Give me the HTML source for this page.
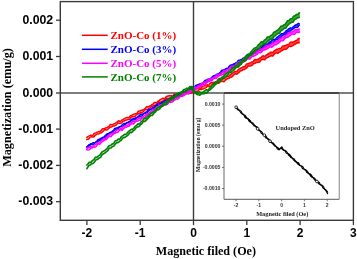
<!DOCTYPE html><html><head><meta charset="utf-8"><style>
html,body{margin:0;padding:0;background:#fff;width:357px;height:259px;overflow:hidden}
svg{display:block;will-change:transform}
.s{font-family:"Liberation Sans",sans-serif;font-weight:bold}
.t{font-family:"Liberation Serif",serif;font-weight:bold}
</style></head><body>
<svg width="357" height="259" viewBox="0 0 357 259">
<line x1="56.0" y1="93.0" x2="353.4" y2="93.0" stroke="#7c7c7c" stroke-width="1.9"/>
<line x1="193.5" y1="1.6" x2="193.5" y2="220.3" stroke="#3a3a3a" stroke-width="1.4"/>
<defs>
<linearGradient id="g_red" gradientUnits="userSpaceOnUse" x1="86" y1="0" x2="300" y2="0"><stop offset="0" stop-color="#ff0000" stop-opacity="0.15"/><stop offset="0.53" stop-color="#ff0000" stop-opacity="0.4"/><stop offset="0.8" stop-color="#ff0000" stop-opacity="0.7"/><stop offset="1" stop-color="#ff0000" stop-opacity="0.75"/></linearGradient>
<linearGradient id="g_blue" gradientUnits="userSpaceOnUse" x1="86" y1="0" x2="300" y2="0"><stop offset="0" stop-color="#0000ff" stop-opacity="0.15"/><stop offset="0.53" stop-color="#0000ff" stop-opacity="0.4"/><stop offset="0.8" stop-color="#0000ff" stop-opacity="0.7"/><stop offset="1" stop-color="#0000ff" stop-opacity="0.75"/></linearGradient>
<linearGradient id="g_mag" gradientUnits="userSpaceOnUse" x1="86" y1="0" x2="300" y2="0"><stop offset="0" stop-color="#ff00ff" stop-opacity="0.15"/><stop offset="0.53" stop-color="#ff00ff" stop-opacity="0.4"/><stop offset="0.8" stop-color="#ff00ff" stop-opacity="0.7"/><stop offset="1" stop-color="#ff00ff" stop-opacity="0.75"/></linearGradient>
<linearGradient id="g_green" gradientUnits="userSpaceOnUse" x1="86" y1="0" x2="300" y2="0"><stop offset="0" stop-color="#008000" stop-opacity="0.15"/><stop offset="0.53" stop-color="#008000" stop-opacity="0.4"/><stop offset="0.8" stop-color="#008000" stop-opacity="0.7"/><stop offset="1" stop-color="#008000" stop-opacity="0.75"/></linearGradient>
</defs>
<path d="M86.2,137.6L86.8,137.3L87.4,137.0L88.0,136.5L88.6,136.1L89.2,135.9L89.8,135.6L90.4,135.3L91.0,135.2L91.6,135.4L92.2,135.6L92.8,135.3L93.4,134.5L94.0,133.7L94.6,133.3L95.2,133.2L95.8,132.9L96.4,132.6L97.0,132.2L97.6,132.1L98.2,131.9L98.8,131.6L99.4,131.5L100.0,131.5L100.6,131.3L101.2,130.6L101.8,129.6L102.4,128.9L103.0,128.7L103.6,128.8L104.2,128.6L104.8,128.3L105.4,128.0L106.0,127.9L106.6,127.7L107.2,127.4L107.8,127.0L108.4,126.8L109.0,126.3L109.6,125.5L110.2,124.7L110.8,124.4L111.4,124.6L112.0,124.8L112.6,124.7L113.2,124.3L113.8,123.9L114.4,123.7L115.0,123.4L115.6,123.0L116.2,122.6L116.8,122.2L117.4,121.8L118.0,121.2L118.6,120.8L119.2,120.9L119.8,121.3L120.4,121.4L121.0,121.0L121.6,120.4L122.2,119.9L122.8,119.6L123.4,119.3L124.0,118.9L124.6,118.5L125.2,118.2L125.8,117.9L126.4,117.6L127.0,117.5L127.6,117.7L128.2,117.9L128.8,117.7L129.4,116.9L130.0,116.1L130.6,115.6L131.2,115.4L131.8,115.2L132.4,114.8L133.0,114.5L133.6,114.3L134.2,114.1L134.8,113.9L135.4,113.7L136.0,113.7L136.6,113.6L137.2,112.9L137.8,111.9L138.4,111.2L139.0,111.0L139.6,111.0L140.2,110.9L140.8,110.6L141.4,110.3L142.0,110.2L142.6,110.0L143.2,109.7L143.8,109.4L144.4,109.1L145.0,108.7L145.6,107.9L146.2,107.0L146.8,106.6L147.4,106.8L148.0,107.0L148.6,106.8L149.2,106.4L149.8,106.0L150.4,105.7L151.0,105.4L151.6,104.9L152.2,104.4L152.8,104.1L153.4,103.6L154.0,102.9L154.6,102.4L155.2,102.4L155.8,102.7L156.4,102.8L157.0,102.4L157.6,101.7L158.2,101.2L158.8,100.8L159.4,100.4L160.0,99.9L160.6,99.5L161.2,99.2L161.8,98.9L162.4,98.5L163.0,98.3L163.6,98.5L164.2,98.7L164.8,98.5L165.4,97.7L166.0,96.9L166.6,96.4L167.2,96.2L167.8,96.1L168.4,95.9L169.0,95.8L169.6,95.8L170.2,95.8L170.8,95.6L171.4,95.7L172.0,95.9L172.6,96.0L173.2,95.5L173.8,94.7L174.4,94.1L175.0,94.0L175.6,94.2L176.2,94.3L176.8,94.1L177.4,94.1L178.0,94.1L178.6,94.0L179.2,93.9L179.8,93.7L180.4,93.7L181.0,93.4L181.6,92.8L182.2,92.1L182.8,91.8L183.4,92.1L184.0,92.5L184.6,92.5L185.2,92.3L185.8,92.2L186.4,92.1L187.0,91.9L187.6,91.6L188.2,91.4L188.8,91.2L189.4,90.9L190.0,90.4L190.6,90.0L191.2,90.2L191.8,90.7L192.4,91.0L193.0,90.8L193.6,90.4L194.2,90.0L194.8,89.7L195.4,89.4L196.0,89.0L196.6,88.7L197.2,88.5L197.8,88.2L198.4,87.9L199.0,87.7L199.6,88.0L200.2,88.3L200.8,88.2L201.4,87.6L202.0,86.8L202.6,86.3L203.2,86.1L203.8,85.9L204.4,85.6L205.0,85.4L205.6,85.3L206.2,85.1L206.8,84.9L207.4,84.8L208.0,85.0L208.6,85.0L209.2,84.5L209.8,83.6L210.4,82.9L211.0,82.7L211.6,82.7L212.2,82.7L212.8,82.5L213.4,82.4L214.0,82.3L214.6,82.2L215.2,81.9L215.8,81.7L216.4,81.6L217.0,81.3L217.6,80.6L218.2,79.8L218.8,79.4L219.4,79.6L220.0,79.9L220.6,79.9L221.2,79.6L221.8,79.4L222.4,79.2L223.0,78.9L223.6,78.5L224.2,78.2L224.8,78.0L225.4,77.5L226.0,76.8L226.6,76.1L227.2,76.0L227.8,76.3L228.4,76.4L229.0,76.1L229.6,75.4L230.2,74.9L230.8,74.4L231.4,74.0L232.0,73.4L232.6,73.0L233.2,72.7L233.8,72.3L234.4,71.7L235.0,71.4L235.6,71.5L236.2,71.7L236.8,71.6L237.4,70.8L238.0,69.9L238.6,69.3L239.2,69.0L239.8,68.6L240.4,68.2L241.0,67.9L241.6,67.7L242.2,67.4L242.8,67.0L243.4,66.8L244.0,66.8L244.6,66.7L245.2,66.1L245.8,65.1L246.4,64.2L247.0,63.9L247.6,63.8L248.2,63.6L248.8,63.3L249.4,63.1L250.0,62.9L250.6,62.7L251.2,62.3L251.8,62.1L252.4,62.0L253.0,61.7L253.6,60.9L254.2,60.0L254.8,59.6L255.4,59.6L256.0,59.9L256.6,59.8L257.2,59.6L257.8,59.3L258.4,59.1L259.0,58.7L259.6,58.2L260.2,57.9L260.8,57.6L261.4,57.2L262.0,56.5L262.6,55.9L263.2,55.8L263.8,56.1L264.4,56.4L265.0,56.1L265.6,55.6L266.2,55.1L266.8,54.7L267.4,54.3L268.0,53.8L268.6,53.5L269.2,53.2L269.8,52.9L270.4,52.4L271.0,52.1L271.6,52.3L272.2,52.6L272.8,52.5L273.4,51.9L274.0,51.1L274.6,50.5L275.2,50.2L275.8,49.8L276.4,49.5L277.0,49.3L277.6,49.1L278.2,48.9L278.8,48.6L279.4,48.4L280.0,48.5L280.6,48.5L281.2,48.0L281.8,47.1L282.4,46.3L283.0,45.9L283.6,45.9L284.2,45.8L284.8,45.6L285.4,45.4L286.0,45.3L286.6,45.1L287.2,44.7L287.8,44.5L288.4,44.4L289.0,44.1L289.6,43.4L290.2,42.5L290.8,42.0L291.4,42.0L292.0,42.3L292.6,42.2L293.2,42.0L293.8,41.8L294.4,41.5L295.0,41.2L295.6,40.7L296.2,40.4L296.8,40.2L297.4,39.8L298.0,39.1L298.6,38.5L299.2,38.4L299.8,38.7L299.8,42.7L299.2,42.7L298.6,42.9L298.0,42.9L297.4,42.8L296.8,43.0L296.2,43.5L295.6,44.1L295.0,44.3L294.4,44.5L293.8,44.9L293.2,45.5L292.6,45.9L292.0,46.1L291.4,46.4L290.8,46.6L290.2,46.5L289.6,46.2L289.0,46.3L288.4,47.0L287.8,47.8L287.2,48.4L286.6,48.8L286.0,49.2L285.4,49.4L284.8,49.3L284.2,49.1L283.6,49.4L283.0,50.0L282.4,50.3L281.8,50.5L281.2,50.8L280.6,51.3L280.0,51.8L279.4,52.1L278.8,52.5L278.2,53.1L277.6,53.3L277.0,53.1L276.4,52.8L275.8,53.0L275.2,53.4L274.6,53.9L274.0,54.5L273.4,55.2L272.8,55.9L272.2,56.0L271.6,55.8L271.0,55.8L270.4,56.1L269.8,56.4L269.2,56.6L268.6,56.8L268.0,57.3L267.4,57.6L266.8,57.8L266.2,58.2L265.6,58.8L265.0,59.5L264.4,59.7L263.8,59.6L263.2,59.5L262.6,59.6L262.0,59.6L261.4,59.8L260.8,60.4L260.2,61.4L259.6,62.0L259.0,62.2L258.4,62.2L257.8,62.4L257.2,62.6L256.6,62.6L256.0,62.7L255.4,63.1L254.8,63.5L254.2,63.6L253.6,63.7L253.0,64.2L252.4,64.9L251.8,65.5L251.2,65.7L250.6,65.9L250.0,66.0L249.4,66.0L248.8,65.8L248.2,65.9L247.6,66.7L247.0,67.6L246.4,68.2L245.8,68.5L245.2,69.0L244.6,69.4L244.0,69.4L243.4,69.5L242.8,69.8L242.2,70.4L241.6,70.7L241.0,70.7L240.4,70.9L239.8,71.5L239.2,72.2L238.6,72.7L238.0,73.2L237.4,73.9L236.8,74.2L236.2,74.0L235.6,73.7L235.0,73.9L234.4,74.5L233.8,75.0L233.2,75.6L232.6,76.2L232.0,76.9L231.4,77.2L230.8,77.2L230.2,77.4L229.6,77.9L229.0,78.3L228.4,78.4L227.8,78.5L227.2,78.8L226.6,79.3L226.0,79.6L225.4,80.1L224.8,80.9L224.2,81.6L223.6,81.8L223.0,81.5L222.4,81.3L221.8,81.3L221.2,81.4L220.6,81.5L220.0,82.0L219.4,82.7L218.8,83.3L218.2,83.3L217.6,83.3L217.0,83.6L216.4,84.0L215.8,84.0L215.2,84.0L214.6,84.2L214.0,84.4L213.4,84.4L212.8,84.4L212.2,84.9L211.6,85.7L211.0,86.3L210.4,86.5L209.8,86.6L209.2,86.6L208.6,86.5L208.0,86.2L207.4,86.2L206.8,86.8L206.2,87.5L205.6,87.9L205.0,88.1L204.4,88.4L203.8,88.7L203.2,88.9L202.6,89.0L202.0,89.2L201.4,89.5L200.8,89.6L200.2,89.3L199.6,89.3L199.0,89.8L198.4,90.5L197.8,91.0L197.2,91.4L196.6,91.8L196.0,92.0L195.4,91.7L194.8,91.3L194.2,91.4L193.6,91.9L193.0,92.2L192.4,92.4L191.8,92.7L191.2,93.1L190.6,93.3L190.0,93.2L189.4,93.3L188.8,93.7L188.2,93.9L187.6,93.7L187.0,93.4L186.4,93.4L185.8,93.6L185.2,93.9L184.6,94.2L184.0,94.9L183.4,95.5L182.8,95.6L182.2,95.2L181.6,95.0L181.0,95.0L180.4,95.1L179.8,95.2L179.2,95.4L178.6,95.9L178.0,96.3L177.4,96.3L176.8,96.4L176.2,96.7L175.6,97.2L175.0,97.3L174.4,97.1L173.8,97.0L173.2,97.0L172.6,96.9L172.0,96.8L171.4,97.2L170.8,98.0L170.2,98.6L169.6,98.7L169.0,98.6L168.4,98.6L167.8,98.5L167.2,98.3L166.6,98.3L166.0,98.9L165.4,99.5L164.8,99.8L164.2,100.0L163.6,100.4L163.0,101.0L162.4,101.5L161.8,101.7L161.2,101.9L160.6,102.2L160.0,102.3L159.4,102.0L158.8,102.1L158.2,102.7L157.6,103.6L157.0,104.2L156.4,104.7L155.8,105.2L155.2,105.5L154.6,105.4L154.0,105.3L153.4,105.5L152.8,106.0L152.2,106.5L151.6,106.7L151.0,107.0L150.4,107.6L149.8,108.1L149.2,108.4L148.6,108.8L148.0,109.4L147.4,109.8L146.8,109.7L146.2,109.4L145.6,109.5L145.0,110.0L144.4,110.5L143.8,111.1L143.2,111.8L142.6,112.5L142.0,112.8L141.4,112.7L140.8,112.6L140.2,112.9L139.6,113.3L139.0,113.5L138.4,113.7L137.8,114.2L137.2,114.6L136.6,114.9L136.0,115.2L135.4,115.8L134.8,116.6L134.2,116.9L133.6,116.8L133.0,116.7L132.4,116.8L131.8,117.0L131.2,117.1L130.6,117.7L130.0,118.6L129.4,119.4L128.8,119.6L128.2,119.6L127.6,119.7L127.0,119.9L126.4,120.0L125.8,120.0L125.2,120.4L124.6,120.8L124.0,121.0L123.4,121.1L122.8,121.4L122.2,122.2L121.6,122.8L121.0,123.1L120.4,123.2L119.8,123.4L119.2,123.3L118.6,123.1L118.0,123.0L117.4,123.6L116.8,124.4L116.2,125.0L115.6,125.3L115.0,125.7L114.4,126.0L113.8,126.1L113.2,126.0L112.6,126.2L112.0,126.7L111.4,127.0L110.8,127.0L110.2,127.1L109.6,127.6L109.0,128.2L108.4,128.7L107.8,129.2L107.2,129.8L106.6,130.1L106.0,130.0L105.4,129.7L104.8,129.7L104.2,130.2L103.6,130.8L103.0,131.3L102.4,131.9L101.8,132.6L101.2,132.9L100.6,132.9L100.0,132.9L99.4,133.4L98.8,133.8L98.2,133.9L97.6,133.9L97.0,134.2L96.4,134.6L95.8,135.0L95.2,135.3L94.6,136.0L94.0,136.8L93.4,137.1L92.8,137.0L92.2,136.7L91.6,136.8L91.0,136.9L90.4,137.1L89.8,137.5L89.2,138.3L88.6,139.0L88.0,139.2L87.4,139.2L86.8,139.5L86.2,139.9Z" fill="url(#g_red)" stroke="none"/>
<path d="M86.2,137.6L86.8,137.3L87.4,137.0L88.0,136.5L88.6,136.1L89.2,135.9L89.8,135.6L90.4,135.3L91.0,135.2L91.6,135.4L92.2,135.6L92.8,135.3L93.4,134.5L94.0,133.7L94.6,133.3L95.2,133.2L95.8,132.9L96.4,132.6L97.0,132.2L97.6,132.1L98.2,131.9L98.8,131.6L99.4,131.5L100.0,131.5L100.6,131.3L101.2,130.6L101.8,129.6L102.4,128.9L103.0,128.7L103.6,128.8L104.2,128.6L104.8,128.3L105.4,128.0L106.0,127.9L106.6,127.7L107.2,127.4L107.8,127.0L108.4,126.8L109.0,126.3L109.6,125.5L110.2,124.7L110.8,124.4L111.4,124.6L112.0,124.8L112.6,124.7L113.2,124.3L113.8,123.9L114.4,123.7L115.0,123.4L115.6,123.0L116.2,122.6L116.8,122.2L117.4,121.8L118.0,121.2L118.6,120.8L119.2,120.9L119.8,121.3L120.4,121.4L121.0,121.0L121.6,120.4L122.2,119.9L122.8,119.6L123.4,119.3L124.0,118.9L124.6,118.5L125.2,118.2L125.8,117.9L126.4,117.6L127.0,117.5L127.6,117.7L128.2,117.9L128.8,117.7L129.4,116.9L130.0,116.1L130.6,115.6L131.2,115.4L131.8,115.2L132.4,114.8L133.0,114.5L133.6,114.3L134.2,114.1L134.8,113.9L135.4,113.7L136.0,113.7L136.6,113.6L137.2,112.9L137.8,111.9L138.4,111.2L139.0,111.0L139.6,111.0L140.2,110.9L140.8,110.6L141.4,110.3L142.0,110.2L142.6,110.0L143.2,109.7L143.8,109.4L144.4,109.1L145.0,108.7L145.6,107.9L146.2,107.0L146.8,106.6L147.4,106.8L148.0,107.0L148.6,106.8L149.2,106.4L149.8,106.0L150.4,105.7L151.0,105.4L151.6,104.9L152.2,104.4L152.8,104.1L153.4,103.6L154.0,102.9L154.6,102.4L155.2,102.4L155.8,102.7L156.4,102.8L157.0,102.4L157.6,101.7L158.2,101.2L158.8,100.8L159.4,100.4L160.0,99.9L160.6,99.5L161.2,99.2L161.8,98.9L162.4,98.5L163.0,98.3L163.6,98.5L164.2,98.7L164.8,98.5L165.4,97.7L166.0,96.9L166.6,96.4L167.2,96.2L167.8,96.1L168.4,95.9L169.0,95.8L169.6,95.8L170.2,95.8L170.8,95.6L171.4,95.7L172.0,95.9L172.6,96.0L173.2,95.5L173.8,94.7L174.4,94.1L175.0,94.0L175.6,94.2L176.2,94.3L176.8,94.1L177.4,94.1L178.0,94.1L178.6,94.0L179.2,93.9L179.8,93.7L180.4,93.7L181.0,93.4L181.6,92.8L182.2,92.1L182.8,91.8L183.4,92.1L184.0,92.5L184.6,92.5L185.2,92.3L185.8,92.2L186.4,92.1L187.0,91.9L187.6,91.6L188.2,91.4L188.8,91.2L189.4,90.9L190.0,90.4L190.6,90.0L191.2,90.2L191.8,90.7L192.4,91.0L193.0,90.8L193.6,90.4L194.2,90.0L194.8,89.7L195.4,89.4L196.0,89.0L196.6,88.7L197.2,88.5L197.8,88.2L198.4,87.9L199.0,87.7L199.6,88.0L200.2,88.3L200.8,88.2L201.4,87.6L202.0,86.8L202.6,86.3L203.2,86.1L203.8,85.9L204.4,85.6L205.0,85.4L205.6,85.3L206.2,85.1L206.8,84.9L207.4,84.8L208.0,85.0L208.6,85.0L209.2,84.5L209.8,83.6L210.4,82.9L211.0,82.7L211.6,82.7L212.2,82.7L212.8,82.5L213.4,82.4L214.0,82.3L214.6,82.2L215.2,81.9L215.8,81.7L216.4,81.6L217.0,81.3L217.6,80.6L218.2,79.8L218.8,79.4L219.4,79.6L220.0,79.9L220.6,79.9L221.2,79.6L221.8,79.4L222.4,79.2L223.0,78.9L223.6,78.5L224.2,78.2L224.8,78.0L225.4,77.5L226.0,76.8L226.6,76.1L227.2,76.0L227.8,76.3L228.4,76.4L229.0,76.1L229.6,75.4L230.2,74.9L230.8,74.4L231.4,74.0L232.0,73.4L232.6,73.0L233.2,72.7L233.8,72.3L234.4,71.7L235.0,71.4L235.6,71.5L236.2,71.7L236.8,71.6L237.4,70.8L238.0,69.9L238.6,69.3L239.2,69.0L239.8,68.6L240.4,68.2L241.0,67.9L241.6,67.7L242.2,67.4L242.8,67.0L243.4,66.8L244.0,66.8L244.6,66.7L245.2,66.1L245.8,65.1L246.4,64.2L247.0,63.9L247.6,63.8L248.2,63.6L248.8,63.3L249.4,63.1L250.0,62.9L250.6,62.7L251.2,62.3L251.8,62.1L252.4,62.0L253.0,61.7L253.6,60.9L254.2,60.0L254.8,59.6L255.4,59.6L256.0,59.9L256.6,59.8L257.2,59.6L257.8,59.3L258.4,59.1L259.0,58.7L259.6,58.2L260.2,57.9L260.8,57.6L261.4,57.2L262.0,56.5L262.6,55.9L263.2,55.8L263.8,56.1L264.4,56.4L265.0,56.1L265.6,55.6L266.2,55.1L266.8,54.7L267.4,54.3L268.0,53.8L268.6,53.5L269.2,53.2L269.8,52.9L270.4,52.4L271.0,52.1L271.6,52.3L272.2,52.6L272.8,52.5L273.4,51.9L274.0,51.1L274.6,50.5L275.2,50.2L275.8,49.8L276.4,49.5L277.0,49.3L277.6,49.1L278.2,48.9L278.8,48.6L279.4,48.4L280.0,48.5L280.6,48.5L281.2,48.0L281.8,47.1L282.4,46.3L283.0,45.9L283.6,45.9L284.2,45.8L284.8,45.6L285.4,45.4L286.0,45.3L286.6,45.1L287.2,44.7L287.8,44.5L288.4,44.4L289.0,44.1L289.6,43.4L290.2,42.5L290.8,42.0L291.4,42.0L292.0,42.3L292.6,42.2L293.2,42.0L293.8,41.8L294.4,41.5L295.0,41.2L295.6,40.7L296.2,40.4L296.8,40.2L297.4,39.8L298.0,39.1L298.6,38.5L299.2,38.4L299.8,38.7" fill="none" stroke="#ff0000" stroke-width="1.5" stroke-linejoin="round" stroke-linecap="butt"/>
<path d="M86.2,139.9L86.8,139.5L87.4,139.2L88.0,139.2L88.6,139.0L89.2,138.3L89.8,137.5L90.4,137.1L91.0,136.9L91.6,136.8L92.2,136.7L92.8,137.0L93.4,137.1L94.0,136.8L94.6,136.0L95.2,135.3L95.8,135.0L96.4,134.6L97.0,134.2L97.6,133.9L98.2,133.9L98.8,133.8L99.4,133.4L100.0,132.9L100.6,132.9L101.2,132.9L101.8,132.6L102.4,131.9L103.0,131.3L103.6,130.8L104.2,130.2L104.8,129.7L105.4,129.7L106.0,130.0L106.6,130.1L107.2,129.8L107.8,129.2L108.4,128.7L109.0,128.2L109.6,127.6L110.2,127.1L110.8,127.0L111.4,127.0L112.0,126.7L112.6,126.2L113.2,126.0L113.8,126.1L114.4,126.0L115.0,125.7L115.6,125.3L116.2,125.0L116.8,124.4L117.4,123.6L118.0,123.0L118.6,123.1L119.2,123.3L119.8,123.4L120.4,123.2L121.0,123.1L121.6,122.8L122.2,122.2L122.8,121.4L123.4,121.1L124.0,121.0L124.6,120.8L125.2,120.4L125.8,120.0L126.4,120.0L127.0,119.9L127.6,119.7L128.2,119.6L128.8,119.6L129.4,119.4L130.0,118.6L130.6,117.7L131.2,117.1L131.8,117.0L132.4,116.8L133.0,116.7L133.6,116.8L134.2,116.9L134.8,116.6L135.4,115.8L136.0,115.2L136.6,114.9L137.2,114.6L137.8,114.2L138.4,113.7L139.0,113.5L139.6,113.3L140.2,112.9L140.8,112.6L141.4,112.7L142.0,112.8L142.6,112.5L143.2,111.8L143.8,111.1L144.4,110.5L145.0,110.0L145.6,109.5L146.2,109.4L146.8,109.7L147.4,109.8L148.0,109.4L148.6,108.8L149.2,108.4L149.8,108.1L150.4,107.6L151.0,107.0L151.6,106.7L152.2,106.5L152.8,106.0L153.4,105.5L154.0,105.3L154.6,105.4L155.2,105.5L155.8,105.2L156.4,104.7L157.0,104.2L157.6,103.6L158.2,102.7L158.8,102.1L159.4,102.0L160.0,102.3L160.6,102.2L161.2,101.9L161.8,101.7L162.4,101.5L163.0,101.0L163.6,100.4L164.2,100.0L164.8,99.8L165.4,99.5L166.0,98.9L166.6,98.3L167.2,98.3L167.8,98.5L168.4,98.6L169.0,98.6L169.6,98.7L170.2,98.6L170.8,98.0L171.4,97.2L172.0,96.8L172.6,96.9L173.2,97.0L173.8,97.0L174.4,97.1L175.0,97.3L175.6,97.2L176.2,96.7L176.8,96.4L177.4,96.3L178.0,96.3L178.6,95.9L179.2,95.4L179.8,95.2L180.4,95.1L181.0,95.0L181.6,95.0L182.2,95.2L182.8,95.6L183.4,95.5L184.0,94.9L184.6,94.2L185.2,93.9L185.8,93.6L186.4,93.4L187.0,93.4L187.6,93.7L188.2,93.9L188.8,93.7L189.4,93.3L190.0,93.2L190.6,93.3L191.2,93.1L191.8,92.7L192.4,92.4L193.0,92.2L193.6,91.9L194.2,91.4L194.8,91.3L195.4,91.7L196.0,92.0L196.6,91.8L197.2,91.4L197.8,91.0L198.4,90.5L199.0,89.8L199.6,89.3L200.2,89.3L200.8,89.6L201.4,89.5L202.0,89.2L202.6,89.0L203.2,88.9L203.8,88.7L204.4,88.4L205.0,88.1L205.6,87.9L206.2,87.5L206.8,86.8L207.4,86.2L208.0,86.2L208.6,86.5L209.2,86.6L209.8,86.6L210.4,86.5L211.0,86.3L211.6,85.7L212.2,84.9L212.8,84.4L213.4,84.4L214.0,84.4L214.6,84.2L215.2,84.0L215.8,84.0L216.4,84.0L217.0,83.6L217.6,83.3L218.2,83.3L218.8,83.3L219.4,82.7L220.0,82.0L220.6,81.5L221.2,81.4L221.8,81.3L222.4,81.3L223.0,81.5L223.6,81.8L224.2,81.6L224.8,80.9L225.4,80.1L226.0,79.6L226.6,79.3L227.2,78.8L227.8,78.5L228.4,78.4L229.0,78.3L229.6,77.9L230.2,77.4L230.8,77.2L231.4,77.2L232.0,76.9L232.6,76.2L233.2,75.6L233.8,75.0L234.4,74.5L235.0,73.9L235.6,73.7L236.2,74.0L236.8,74.2L237.4,73.9L238.0,73.2L238.6,72.7L239.2,72.2L239.8,71.5L240.4,70.9L241.0,70.7L241.6,70.7L242.2,70.4L242.8,69.8L243.4,69.5L244.0,69.4L244.6,69.4L245.2,69.0L245.8,68.5L246.4,68.2L247.0,67.6L247.6,66.7L248.2,65.9L248.8,65.8L249.4,66.0L250.0,66.0L250.6,65.9L251.2,65.7L251.8,65.5L252.4,64.9L253.0,64.2L253.6,63.7L254.2,63.6L254.8,63.5L255.4,63.1L256.0,62.7L256.6,62.6L257.2,62.6L257.8,62.4L258.4,62.2L259.0,62.2L259.6,62.0L260.2,61.4L260.8,60.4L261.4,59.8L262.0,59.6L262.6,59.6L263.2,59.5L263.8,59.6L264.4,59.7L265.0,59.5L265.6,58.8L266.2,58.2L266.8,57.8L267.4,57.6L268.0,57.3L268.6,56.8L269.2,56.6L269.8,56.4L270.4,56.1L271.0,55.8L271.6,55.8L272.2,56.0L272.8,55.9L273.4,55.2L274.0,54.5L274.6,53.9L275.2,53.4L275.8,53.0L276.4,52.8L277.0,53.1L277.6,53.3L278.2,53.1L278.8,52.5L279.4,52.1L280.0,51.8L280.6,51.3L281.2,50.8L281.8,50.5L282.4,50.3L283.0,50.0L283.6,49.4L284.2,49.1L284.8,49.3L285.4,49.4L286.0,49.2L286.6,48.8L287.2,48.4L287.8,47.8L288.4,47.0L289.0,46.3L289.6,46.2L290.2,46.5L290.8,46.6L291.4,46.4L292.0,46.1L292.6,45.9L293.2,45.5L293.8,44.9L294.4,44.5L295.0,44.3L295.6,44.1L296.2,43.5L296.8,43.0L297.4,42.8L298.0,42.9L298.6,42.9L299.2,42.7L299.8,42.7" fill="none" stroke="#ff0000" stroke-width="1.5" stroke-linejoin="round" stroke-linecap="butt"/>
<path d="M86.2,146.7L86.8,146.8L87.4,146.5L88.0,145.6L88.6,144.9L89.2,144.6L89.8,144.3L90.4,143.9L91.0,143.7L91.6,143.6L92.2,143.3L92.8,142.8L93.4,142.6L94.0,142.8L94.6,142.9L95.2,142.6L95.8,142.2L96.4,141.7L97.0,140.9L97.6,140.0L98.2,139.5L98.8,139.5L99.4,139.3L100.0,138.8L100.6,138.4L101.2,138.2L101.8,137.9L102.4,137.5L103.0,137.4L103.6,137.4L104.2,137.0L104.8,136.0L105.4,135.2L106.0,134.7L106.6,134.2L107.2,133.7L107.8,133.6L108.4,133.6L109.0,133.2L109.6,132.6L110.2,132.3L110.8,132.2L111.4,132.0L112.0,131.6L112.6,131.1L113.2,130.7L113.8,129.8L114.4,128.8L115.0,128.3L115.6,128.3L116.2,128.2L116.8,127.9L117.4,127.7L118.0,127.6L118.6,127.2L119.2,126.7L119.8,126.6L120.4,126.7L121.0,126.3L121.6,125.5L122.2,124.8L122.8,124.3L123.4,123.8L124.0,123.4L124.6,123.4L125.2,123.6L125.8,123.3L126.4,122.8L127.0,122.5L127.6,122.4L128.2,122.1L128.8,121.7L129.4,121.5L130.0,121.2L130.6,120.3L131.2,119.4L131.8,119.1L132.4,119.0L133.0,118.9L133.6,118.7L134.2,118.8L134.8,118.6L135.4,118.1L136.0,117.5L136.6,117.4L137.2,117.3L137.8,116.9L138.4,116.2L139.0,115.7L139.6,115.2L140.2,114.5L140.8,114.1L141.4,114.3L142.0,114.5L142.6,114.3L143.2,113.8L143.8,113.6L144.4,113.3L145.0,112.7L145.6,112.2L146.2,112.0L146.8,111.7L147.4,110.8L148.0,109.9L148.6,109.5L149.2,109.3L149.8,109.1L150.4,109.0L151.0,109.1L151.6,109.0L152.2,108.3L152.8,107.6L153.4,107.3L154.0,107.0L154.6,106.5L155.2,106.0L155.8,105.6L156.4,105.0L157.0,104.2L157.6,103.8L158.2,103.9L158.8,104.1L159.4,103.9L160.0,103.5L160.6,103.4L161.2,103.0L161.8,102.3L162.4,102.0L163.0,102.0L163.6,101.8L164.2,101.2L164.8,100.6L165.4,100.3L166.0,100.1L166.6,99.9L167.2,99.9L167.8,100.2L168.4,100.1L169.0,99.4L169.6,98.8L170.2,98.4L170.8,98.0L171.4,97.5L172.0,97.2L172.6,97.0L173.2,96.5L173.8,95.8L174.4,95.5L175.0,95.6L175.6,95.7L176.2,95.6L176.8,95.5L177.4,95.3L178.0,94.7L178.6,93.9L179.2,93.4L179.8,93.3L180.4,93.1L181.0,92.6L181.6,92.2L182.2,92.0L182.8,91.7L183.4,91.4L184.0,91.5L184.6,91.8L185.2,91.7L185.8,91.1L186.4,90.5L187.0,90.1L187.6,89.5L188.2,89.0L188.8,88.8L189.4,88.8L190.0,88.5L190.6,87.9L191.2,87.6L191.8,87.7L192.4,87.7L193.0,87.6L193.6,87.5L194.2,87.4L194.8,86.7L195.4,85.9L196.0,85.4L196.6,85.3L197.2,85.0L197.8,84.7L198.4,84.5L199.0,84.4L199.6,84.0L200.2,83.7L200.8,83.7L201.4,83.9L202.0,83.6L202.6,83.0L203.2,82.4L203.8,81.8L204.4,81.1L205.0,80.4L205.6,80.3L206.2,80.3L206.8,80.0L207.4,79.5L208.0,79.2L208.6,79.2L209.2,78.9L209.8,78.7L210.4,78.7L211.0,78.5L211.6,77.8L212.2,76.8L212.8,76.3L213.4,76.0L214.0,75.7L214.6,75.4L215.2,75.3L215.8,75.2L216.4,74.6L217.0,74.1L217.6,74.0L218.2,74.0L218.8,73.7L219.4,73.1L220.0,72.6L220.6,71.9L221.2,71.0L221.8,70.3L222.4,70.2L223.0,70.3L223.6,70.0L224.2,69.5L224.8,69.3L225.4,69.1L226.0,68.6L226.6,68.3L227.2,68.3L227.8,68.1L228.4,67.3L229.0,66.4L229.6,65.8L230.2,65.4L230.8,65.0L231.4,64.8L232.0,65.0L232.6,64.9L233.2,64.4L233.8,63.8L234.4,63.7L235.0,63.5L235.6,63.1L236.2,62.7L236.8,62.3L237.4,61.7L238.0,60.8L238.6,60.1L239.2,60.1L239.8,60.1L240.4,59.9L241.0,59.7L241.6,59.5L242.2,59.1L242.8,58.4L243.4,58.0L244.0,57.9L244.6,57.6L245.2,56.9L245.8,56.1L246.4,55.6L247.0,55.1L247.6,54.6L248.2,54.6L248.8,54.8L249.4,54.8L250.0,54.3L250.6,53.8L251.2,53.5L251.8,53.2L252.4,52.6L253.0,52.3L253.6,52.0L254.2,51.4L254.8,50.5L255.4,49.9L256.0,49.8L256.6,49.8L257.2,49.7L257.8,49.6L258.4,49.6L259.0,49.1L259.6,48.3L260.2,47.9L260.8,47.7L261.4,47.4L262.0,46.7L262.6,46.2L263.2,45.7L263.8,45.1L264.4,44.6L265.0,44.5L265.6,44.8L266.2,44.8L266.8,44.3L267.4,43.9L268.0,43.5L268.6,42.9L269.2,42.2L269.8,41.9L270.4,41.8L271.0,41.2L271.6,40.4L272.2,39.9L272.8,39.8L273.4,39.6L274.0,39.4L274.6,39.4L275.2,39.3L275.8,38.7L276.4,37.9L277.0,37.3L277.6,36.9L278.2,36.5L278.8,35.9L279.4,35.5L280.0,35.1L280.6,34.4L281.2,33.8L281.8,33.7L282.4,33.9L283.0,33.8L283.6,33.4L284.2,32.9L284.8,32.4L285.4,31.6L286.0,30.8L286.6,30.5L287.2,30.3L287.8,29.8L288.4,29.0L289.0,28.6L289.6,28.3L290.2,28.0L290.8,27.9L291.4,28.1L292.0,28.1L292.6,27.6L293.2,26.7L293.8,26.2L294.4,25.8L295.0,25.3L295.6,24.9L296.2,24.8L296.8,24.6L297.4,24.1L298.0,23.6L298.6,23.5L299.2,23.7L299.8,23.6L299.8,25.0L299.2,25.4L298.6,26.0L298.0,26.9L297.4,27.6L296.8,27.6L296.2,27.4L295.6,27.4L295.0,27.7L294.4,28.0L293.8,28.3L293.2,29.0L292.6,29.5L292.0,29.7L291.4,30.0L290.8,30.6L290.2,31.1L289.6,31.2L289.0,31.2L288.4,31.5L287.8,31.8L287.2,32.2L286.6,32.9L286.0,34.0L285.4,34.8L284.8,34.9L284.2,34.9L283.6,35.0L283.0,35.2L282.4,35.4L281.8,36.0L281.2,36.9L280.6,37.5L280.0,37.7L279.4,38.1L278.8,38.7L278.2,39.1L277.6,39.3L277.0,39.5L276.4,39.8L275.8,39.9L275.2,40.1L274.6,40.9L274.0,42.0L273.4,42.7L272.8,42.9L272.2,43.0L271.6,43.1L271.0,43.0L270.4,43.1L269.8,43.8L269.2,44.7L268.6,45.2L268.0,45.4L267.4,45.8L266.8,46.3L266.2,46.5L265.6,46.6L265.0,47.0L264.4,47.3L263.8,47.3L263.2,47.5L262.6,48.2L262.0,49.2L261.4,49.7L260.8,50.1L260.2,50.4L259.6,50.3L259.0,50.0L258.4,50.1L257.8,50.9L257.2,51.7L256.6,52.2L256.0,52.6L255.4,53.1L254.8,53.3L254.2,53.3L253.6,53.6L253.0,54.1L252.4,54.4L251.8,54.3L251.2,54.6L250.6,55.3L250.0,56.0L249.4,56.5L248.8,57.1L248.2,57.5L247.6,57.3L247.0,56.9L246.4,57.1L245.8,57.8L245.2,58.5L244.6,59.1L244.0,59.8L243.4,60.3L242.8,60.4L242.2,60.3L241.6,60.7L241.0,61.2L240.4,61.5L239.8,61.6L239.2,62.0L238.6,62.6L238.0,63.1L237.4,63.6L236.8,64.3L236.2,64.7L235.6,64.5L235.0,64.2L234.4,64.4L233.8,65.0L233.2,65.5L232.6,66.2L232.0,67.1L231.4,67.5L230.8,67.4L230.2,67.4L229.6,67.7L229.0,68.1L228.4,68.3L227.8,68.6L227.2,69.2L226.6,69.6L226.0,69.9L225.4,70.5L224.8,71.2L224.2,71.7L223.6,71.5L223.0,71.4L222.4,71.7L221.8,72.0L221.2,72.5L220.6,73.4L220.0,74.4L219.4,74.8L218.8,74.7L218.2,74.7L217.6,75.0L217.0,75.3L216.4,75.5L215.8,76.1L215.2,76.8L214.6,77.1L214.0,77.3L213.4,77.9L212.8,78.6L212.2,78.9L211.6,78.8L211.0,78.8L210.4,79.0L209.8,79.0L209.2,79.4L208.6,80.3L208.0,81.3L207.4,81.6L206.8,81.6L206.2,81.7L205.6,81.8L205.0,81.8L204.4,82.1L203.8,82.8L203.2,83.5L202.6,83.7L202.0,84.0L201.4,84.6L200.8,85.1L200.2,85.3L199.6,85.4L199.0,85.6L198.4,85.6L197.8,85.4L197.2,85.8L196.6,86.7L196.0,87.5L195.4,87.8L194.8,87.9L194.2,88.0L193.6,87.8L193.0,87.6L192.4,88.0L191.8,88.7L191.2,89.3L190.6,89.5L190.0,89.8L189.4,90.3L188.8,90.5L188.2,90.6L187.6,90.9L187.0,91.2L186.4,91.1L185.8,91.0L185.2,91.4L184.6,92.2L184.0,92.9L183.4,93.3L182.8,93.7L182.2,93.8L181.6,93.5L181.0,93.2L180.4,93.6L179.8,94.4L179.2,94.9L178.6,95.2L178.0,95.7L177.4,96.1L176.8,96.1L176.2,96.2L175.6,96.6L175.0,97.0L174.4,96.9L173.8,96.9L173.2,97.4L172.6,98.1L172.0,98.6L171.4,99.2L170.8,99.8L170.2,99.9L169.6,99.5L169.0,99.3L168.4,99.7L167.8,100.4L167.2,100.9L166.6,101.5L166.0,102.1L165.4,102.4L164.8,102.2L164.2,102.4L163.6,102.8L163.0,103.0L162.4,102.9L161.8,103.0L161.2,103.4L160.6,103.8L160.0,104.1L159.4,104.9L158.8,105.7L158.2,105.8L157.6,105.5L157.0,105.4L156.4,105.8L155.8,106.2L155.2,106.8L154.6,107.8L154.0,108.5L153.4,108.7L152.8,108.6L152.2,108.9L151.6,109.3L151.0,109.6L150.4,109.7L149.8,110.2L149.2,110.7L148.6,111.1L148.0,111.6L147.4,112.5L146.8,113.2L146.2,113.3L145.6,113.1L145.0,113.2L144.4,113.4L143.8,113.6L143.2,114.2L142.6,115.3L142.0,116.0L141.4,116.1L140.8,116.0L140.2,116.3L139.6,116.5L139.0,116.5L138.4,116.9L137.8,117.5L137.2,117.9L136.6,118.0L136.0,118.5L135.4,119.3L134.8,119.8L134.2,119.9L133.6,119.9L133.0,120.0L132.4,119.9L131.8,120.0L131.2,120.8L130.6,121.8L130.0,122.5L129.4,122.6L128.8,122.8L128.2,122.9L127.6,122.9L127.0,122.9L126.4,123.5L125.8,124.1L125.2,124.4L124.6,124.6L124.0,125.1L123.4,125.8L122.8,126.1L122.2,126.3L121.6,126.6L121.0,126.7L120.4,126.5L119.8,126.6L119.2,127.3L118.6,128.3L118.0,128.9L117.4,129.2L116.8,129.5L116.2,129.5L115.6,129.3L115.0,129.4L114.4,130.1L113.8,130.8L113.2,131.2L112.6,131.6L112.0,132.3L111.4,132.8L110.8,133.1L110.2,133.5L109.6,134.0L109.0,134.2L108.4,134.0L107.8,134.2L107.2,135.0L106.6,135.8L106.0,136.5L105.4,137.1L104.8,137.6L104.2,137.5L103.6,137.2L103.0,137.4L102.4,138.1L101.8,138.7L101.2,139.2L100.6,139.8L100.0,140.4L99.4,140.6L98.8,140.8L98.2,141.3L97.6,141.8L97.0,141.9L96.4,141.8L95.8,142.1L95.2,142.7L94.6,143.2L94.0,143.8L93.4,144.5L92.8,144.9L92.2,144.7L91.6,144.3L91.0,144.4L90.4,144.9L89.8,145.3L89.2,145.8L88.6,146.5L88.0,146.9L87.4,146.9L86.8,147.0L86.2,147.4Z" fill="url(#g_blue)" stroke="none"/>
<path d="M86.2,146.7L86.8,146.8L87.4,146.5L88.0,145.6L88.6,144.9L89.2,144.6L89.8,144.3L90.4,143.9L91.0,143.7L91.6,143.6L92.2,143.3L92.8,142.8L93.4,142.6L94.0,142.8L94.6,142.9L95.2,142.6L95.8,142.2L96.4,141.7L97.0,140.9L97.6,140.0L98.2,139.5L98.8,139.5L99.4,139.3L100.0,138.8L100.6,138.4L101.2,138.2L101.8,137.9L102.4,137.5L103.0,137.4L103.6,137.4L104.2,137.0L104.8,136.0L105.4,135.2L106.0,134.7L106.6,134.2L107.2,133.7L107.8,133.6L108.4,133.6L109.0,133.2L109.6,132.6L110.2,132.3L110.8,132.2L111.4,132.0L112.0,131.6L112.6,131.1L113.2,130.7L113.8,129.8L114.4,128.8L115.0,128.3L115.6,128.3L116.2,128.2L116.8,127.9L117.4,127.7L118.0,127.6L118.6,127.2L119.2,126.7L119.8,126.6L120.4,126.7L121.0,126.3L121.6,125.5L122.2,124.8L122.8,124.3L123.4,123.8L124.0,123.4L124.6,123.4L125.2,123.6L125.8,123.3L126.4,122.8L127.0,122.5L127.6,122.4L128.2,122.1L128.8,121.7L129.4,121.5L130.0,121.2L130.6,120.3L131.2,119.4L131.8,119.1L132.4,119.0L133.0,118.9L133.6,118.7L134.2,118.8L134.8,118.6L135.4,118.1L136.0,117.5L136.6,117.4L137.2,117.3L137.8,116.9L138.4,116.2L139.0,115.7L139.6,115.2L140.2,114.5L140.8,114.1L141.4,114.3L142.0,114.5L142.6,114.3L143.2,113.8L143.8,113.6L144.4,113.3L145.0,112.7L145.6,112.2L146.2,112.0L146.8,111.7L147.4,110.8L148.0,109.9L148.6,109.5L149.2,109.3L149.8,109.1L150.4,109.0L151.0,109.1L151.6,109.0L152.2,108.3L152.8,107.6L153.4,107.3L154.0,107.0L154.6,106.5L155.2,106.0L155.8,105.6L156.4,105.0L157.0,104.2L157.6,103.8L158.2,103.9L158.8,104.1L159.4,103.9L160.0,103.5L160.6,103.4L161.2,103.0L161.8,102.3L162.4,102.0L163.0,102.0L163.6,101.8L164.2,101.2L164.8,100.6L165.4,100.3L166.0,100.1L166.6,99.9L167.2,99.9L167.8,100.2L168.4,100.1L169.0,99.4L169.6,98.8L170.2,98.4L170.8,98.0L171.4,97.5L172.0,97.2L172.6,97.0L173.2,96.5L173.8,95.8L174.4,95.5L175.0,95.6L175.6,95.7L176.2,95.6L176.8,95.5L177.4,95.3L178.0,94.7L178.6,93.9L179.2,93.4L179.8,93.3L180.4,93.1L181.0,92.6L181.6,92.2L182.2,92.0L182.8,91.7L183.4,91.4L184.0,91.5L184.6,91.8L185.2,91.7L185.8,91.1L186.4,90.5L187.0,90.1L187.6,89.5L188.2,89.0L188.8,88.8L189.4,88.8L190.0,88.5L190.6,87.9L191.2,87.6L191.8,87.7L192.4,87.7L193.0,87.6L193.6,87.5L194.2,87.4L194.8,86.7L195.4,85.9L196.0,85.4L196.6,85.3L197.2,85.0L197.8,84.7L198.4,84.5L199.0,84.4L199.6,84.0L200.2,83.7L200.8,83.7L201.4,83.9L202.0,83.6L202.6,83.0L203.2,82.4L203.8,81.8L204.4,81.1L205.0,80.4L205.6,80.3L206.2,80.3L206.8,80.0L207.4,79.5L208.0,79.2L208.6,79.2L209.2,78.9L209.8,78.7L210.4,78.7L211.0,78.5L211.6,77.8L212.2,76.8L212.8,76.3L213.4,76.0L214.0,75.7L214.6,75.4L215.2,75.3L215.8,75.2L216.4,74.6L217.0,74.1L217.6,74.0L218.2,74.0L218.8,73.7L219.4,73.1L220.0,72.6L220.6,71.9L221.2,71.0L221.8,70.3L222.4,70.2L223.0,70.3L223.6,70.0L224.2,69.5L224.8,69.3L225.4,69.1L226.0,68.6L226.6,68.3L227.2,68.3L227.8,68.1L228.4,67.3L229.0,66.4L229.6,65.8L230.2,65.4L230.8,65.0L231.4,64.8L232.0,65.0L232.6,64.9L233.2,64.4L233.8,63.8L234.4,63.7L235.0,63.5L235.6,63.1L236.2,62.7L236.8,62.3L237.4,61.7L238.0,60.8L238.6,60.1L239.2,60.1L239.8,60.1L240.4,59.9L241.0,59.7L241.6,59.5L242.2,59.1L242.8,58.4L243.4,58.0L244.0,57.9L244.6,57.6L245.2,56.9L245.8,56.1L246.4,55.6L247.0,55.1L247.6,54.6L248.2,54.6L248.8,54.8L249.4,54.8L250.0,54.3L250.6,53.8L251.2,53.5L251.8,53.2L252.4,52.6L253.0,52.3L253.6,52.0L254.2,51.4L254.8,50.5L255.4,49.9L256.0,49.8L256.6,49.8L257.2,49.7L257.8,49.6L258.4,49.6L259.0,49.1L259.6,48.3L260.2,47.9L260.8,47.7L261.4,47.4L262.0,46.7L262.6,46.2L263.2,45.7L263.8,45.1L264.4,44.6L265.0,44.5L265.6,44.8L266.2,44.8L266.8,44.3L267.4,43.9L268.0,43.5L268.6,42.9L269.2,42.2L269.8,41.9L270.4,41.8L271.0,41.2L271.6,40.4L272.2,39.9L272.8,39.8L273.4,39.6L274.0,39.4L274.6,39.4L275.2,39.3L275.8,38.7L276.4,37.9L277.0,37.3L277.6,36.9L278.2,36.5L278.8,35.9L279.4,35.5L280.0,35.1L280.6,34.4L281.2,33.8L281.8,33.7L282.4,33.9L283.0,33.8L283.6,33.4L284.2,32.9L284.8,32.4L285.4,31.6L286.0,30.8L286.6,30.5L287.2,30.3L287.8,29.8L288.4,29.0L289.0,28.6L289.6,28.3L290.2,28.0L290.8,27.9L291.4,28.1L292.0,28.1L292.6,27.6L293.2,26.7L293.8,26.2L294.4,25.8L295.0,25.3L295.6,24.9L296.2,24.8L296.8,24.6L297.4,24.1L298.0,23.6L298.6,23.5L299.2,23.7L299.8,23.6" fill="none" stroke="#0000ff" stroke-width="1.4" stroke-linejoin="round" stroke-linecap="butt"/>
<path d="M86.2,147.4L86.8,147.0L87.4,146.9L88.0,146.9L88.6,146.5L89.2,145.8L89.8,145.3L90.4,144.9L91.0,144.4L91.6,144.3L92.2,144.7L92.8,144.9L93.4,144.5L94.0,143.8L94.6,143.2L95.2,142.7L95.8,142.1L96.4,141.8L97.0,141.9L97.6,141.8L98.2,141.3L98.8,140.8L99.4,140.6L100.0,140.4L100.6,139.8L101.2,139.2L101.8,138.7L102.4,138.1L103.0,137.4L103.6,137.2L104.2,137.5L104.8,137.6L105.4,137.1L106.0,136.5L106.6,135.8L107.2,135.0L107.8,134.2L108.4,134.0L109.0,134.2L109.6,134.0L110.2,133.5L110.8,133.1L111.4,132.8L112.0,132.3L112.6,131.6L113.2,131.2L113.8,130.8L114.4,130.1L115.0,129.4L115.6,129.3L116.2,129.5L116.8,129.5L117.4,129.2L118.0,128.9L118.6,128.3L119.2,127.3L119.8,126.6L120.4,126.5L121.0,126.7L121.6,126.6L122.2,126.3L122.8,126.1L123.4,125.8L124.0,125.1L124.6,124.6L125.2,124.4L125.8,124.1L126.4,123.5L127.0,122.9L127.6,122.9L128.2,122.9L128.8,122.8L129.4,122.6L130.0,122.5L130.6,121.8L131.2,120.8L131.8,120.0L132.4,119.9L133.0,120.0L133.6,119.9L134.2,119.9L134.8,119.8L135.4,119.3L136.0,118.5L136.6,118.0L137.2,117.9L137.8,117.5L138.4,116.9L139.0,116.5L139.6,116.5L140.2,116.3L140.8,116.0L141.4,116.1L142.0,116.0L142.6,115.3L143.2,114.2L143.8,113.6L144.4,113.4L145.0,113.2L145.6,113.1L146.2,113.3L146.8,113.2L147.4,112.5L148.0,111.6L148.6,111.1L149.2,110.7L149.8,110.2L150.4,109.7L151.0,109.6L151.6,109.3L152.2,108.9L152.8,108.6L153.4,108.7L154.0,108.5L154.6,107.8L155.2,106.8L155.8,106.2L156.4,105.8L157.0,105.4L157.6,105.5L158.2,105.8L158.8,105.7L159.4,104.9L160.0,104.1L160.6,103.8L161.2,103.4L161.8,103.0L162.4,102.9L163.0,103.0L163.6,102.8L164.2,102.4L164.8,102.2L165.4,102.4L166.0,102.1L166.6,101.5L167.2,100.9L167.8,100.4L168.4,99.7L169.0,99.3L169.6,99.5L170.2,99.9L170.8,99.8L171.4,99.2L172.0,98.6L172.6,98.1L173.2,97.4L173.8,96.9L174.4,96.9L175.0,97.0L175.6,96.6L176.2,96.2L176.8,96.1L177.4,96.1L178.0,95.7L178.6,95.2L179.2,94.9L179.8,94.4L180.4,93.6L181.0,93.2L181.6,93.5L182.2,93.8L182.8,93.7L183.4,93.3L184.0,92.9L184.6,92.2L185.2,91.4L185.8,91.0L186.4,91.1L187.0,91.2L187.6,90.9L188.2,90.6L188.8,90.5L189.4,90.3L190.0,89.8L190.6,89.5L191.2,89.3L191.8,88.7L192.4,88.0L193.0,87.6L193.6,87.8L194.2,88.0L194.8,87.9L195.4,87.8L196.0,87.5L196.6,86.7L197.2,85.8L197.8,85.4L198.4,85.6L199.0,85.6L199.6,85.4L200.2,85.3L200.8,85.1L201.4,84.6L202.0,84.0L202.6,83.7L203.2,83.5L203.8,82.8L204.4,82.1L205.0,81.8L205.6,81.8L206.2,81.7L206.8,81.6L207.4,81.6L208.0,81.3L208.6,80.3L209.2,79.4L209.8,79.0L210.4,79.0L211.0,78.8L211.6,78.8L212.2,78.9L212.8,78.6L213.4,77.9L214.0,77.3L214.6,77.1L215.2,76.8L215.8,76.1L216.4,75.5L217.0,75.3L217.6,75.0L218.2,74.7L218.8,74.7L219.4,74.8L220.0,74.4L220.6,73.4L221.2,72.5L221.8,72.0L222.4,71.7L223.0,71.4L223.6,71.5L224.2,71.7L224.8,71.2L225.4,70.5L226.0,69.9L226.6,69.6L227.2,69.2L227.8,68.6L228.4,68.3L229.0,68.1L229.6,67.7L230.2,67.4L230.8,67.4L231.4,67.5L232.0,67.1L232.6,66.2L233.2,65.5L233.8,65.0L234.4,64.4L235.0,64.2L235.6,64.5L236.2,64.7L236.8,64.3L237.4,63.6L238.0,63.1L238.6,62.6L239.2,62.0L239.8,61.6L240.4,61.5L241.0,61.2L241.6,60.7L242.2,60.3L242.8,60.4L243.4,60.3L244.0,59.8L244.6,59.1L245.2,58.5L245.8,57.8L246.4,57.1L247.0,56.9L247.6,57.3L248.2,57.5L248.8,57.1L249.4,56.5L250.0,56.0L250.6,55.3L251.2,54.6L251.8,54.3L252.4,54.4L253.0,54.1L253.6,53.6L254.2,53.3L254.8,53.3L255.4,53.1L256.0,52.6L256.6,52.2L257.2,51.7L257.8,50.9L258.4,50.1L259.0,50.0L259.6,50.3L260.2,50.4L260.8,50.1L261.4,49.7L262.0,49.2L262.6,48.2L263.2,47.5L263.8,47.3L264.4,47.3L265.0,47.0L265.6,46.6L266.2,46.5L266.8,46.3L267.4,45.8L268.0,45.4L268.6,45.2L269.2,44.7L269.8,43.8L270.4,43.1L271.0,43.0L271.6,43.1L272.2,43.0L272.8,42.9L273.4,42.7L274.0,42.0L274.6,40.9L275.2,40.1L275.8,39.9L276.4,39.8L277.0,39.5L277.6,39.3L278.2,39.1L278.8,38.7L279.4,38.1L280.0,37.7L280.6,37.5L281.2,36.9L281.8,36.0L282.4,35.4L283.0,35.2L283.6,35.0L284.2,34.9L284.8,34.9L285.4,34.8L286.0,34.0L286.6,32.9L287.2,32.2L287.8,31.8L288.4,31.5L289.0,31.2L289.6,31.2L290.2,31.1L290.8,30.6L291.4,30.0L292.0,29.7L292.6,29.5L293.2,29.0L293.8,28.3L294.4,28.0L295.0,27.7L295.6,27.4L296.2,27.4L296.8,27.6L297.4,27.6L298.0,26.9L298.6,26.0L299.2,25.4L299.8,25.0" fill="none" stroke="#0000ff" stroke-width="1.4" stroke-linejoin="round" stroke-linecap="butt"/>
<path d="M86.2,149.5L86.8,149.0L87.4,148.0L88.0,147.3L88.6,147.4L89.2,147.6L89.8,147.3L90.4,146.8L91.0,146.7L91.6,146.9L92.2,146.8L92.8,146.4L93.4,146.0L94.0,145.3L94.6,144.6L95.2,144.3L95.8,144.4L96.4,144.1L97.0,143.3L97.6,142.9L98.2,143.2L98.8,143.2L99.4,142.7L100.0,141.9L100.6,141.3L101.2,140.7L101.8,140.2L102.4,139.8L103.0,139.4L103.6,138.7L104.2,138.2L104.8,138.3L105.4,138.6L106.0,138.2L106.6,137.4L107.2,136.7L107.8,136.4L108.4,136.0L109.0,135.3L109.6,134.6L110.2,134.1L110.8,133.7L111.4,133.6L112.0,133.8L112.6,133.7L113.2,133.0L113.8,132.3L114.4,132.2L115.0,132.0L115.6,131.4L116.2,130.4L116.8,129.9L117.4,129.8L118.0,129.6L118.6,129.6L119.2,129.6L119.8,129.2L120.4,128.7L121.0,128.5L121.6,128.6L122.2,128.1L122.8,127.1L123.4,126.3L124.0,126.2L124.6,126.2L125.2,125.9L125.8,125.6L126.4,125.4L127.0,125.3L127.6,125.1L128.2,125.0L128.8,124.7L129.4,123.8L130.0,122.9L130.6,122.6L131.2,122.7L131.8,122.4L132.4,121.7L133.0,121.5L133.6,121.6L134.2,121.7L134.8,121.4L135.4,121.1L136.0,120.5L136.6,119.7L137.2,119.2L137.8,119.1L138.4,118.9L139.0,118.2L139.6,117.6L140.2,117.8L140.8,118.2L141.4,118.0L142.0,117.4L142.6,116.9L143.2,116.5L143.8,116.1L144.4,115.6L145.0,115.3L145.6,114.6L146.2,113.9L146.8,113.7L147.4,114.0L148.0,114.0L148.6,113.3L149.2,112.7L149.8,112.4L150.4,112.2L151.0,111.5L151.6,110.8L152.2,110.1L152.8,109.6L153.4,109.2L154.0,109.3L154.6,109.3L155.2,108.9L155.8,108.2L156.4,107.9L157.0,108.0L157.6,107.5L158.2,106.4L158.8,105.6L159.4,105.2L160.0,104.9L160.6,104.8L161.2,104.7L161.8,104.6L162.4,104.3L163.0,104.1L163.6,104.3L164.2,104.2L164.8,103.4L165.4,102.4L166.0,102.1L166.6,102.1L167.2,101.9L167.8,101.5L168.4,101.3L169.0,101.3L169.6,101.2L170.2,101.2L170.8,101.2L171.4,100.6L172.0,99.7L172.6,99.1L173.2,99.1L173.8,98.9L174.4,98.2L175.0,97.6L175.6,97.6L176.2,97.9L176.8,97.7L177.4,97.4L178.0,97.0L178.6,96.4L179.2,95.8L179.8,95.5L180.4,95.3L181.0,94.6L181.6,93.8L182.2,93.6L182.8,94.0L183.4,94.1L184.0,93.7L184.6,93.3L185.2,93.1L185.8,92.8L186.4,92.4L187.0,92.0L187.6,91.4L188.2,90.8L188.8,90.4L189.4,90.7L190.0,91.0L190.6,90.6L191.2,90.1L191.8,89.9L192.4,90.0L193.0,89.7L193.6,88.9L194.2,88.1L194.8,87.6L195.4,87.1L196.0,86.9L196.6,86.9L197.2,86.7L197.8,86.1L198.4,85.7L199.0,85.9L199.6,85.8L200.2,84.9L200.8,84.0L201.4,83.5L202.0,83.2L202.6,82.9L203.2,82.6L203.8,82.4L204.4,82.1L205.0,81.8L205.6,81.9L206.2,82.0L206.8,81.4L207.4,80.4L208.0,79.8L208.6,79.7L209.2,79.4L209.8,78.8L210.4,78.3L211.0,78.2L211.6,78.2L212.2,78.2L212.8,78.2L213.4,77.9L214.0,77.2L214.6,76.5L215.2,76.3L215.8,76.2L216.4,75.4L217.0,74.6L217.6,74.3L218.2,74.6L218.8,74.6L219.4,74.3L220.0,74.0L220.6,73.6L221.2,73.0L221.8,72.6L222.4,72.4L223.0,71.8L223.6,70.8L224.2,70.3L224.8,70.5L225.4,70.7L226.0,70.4L226.6,69.8L227.2,69.6L227.8,69.5L228.4,69.1L229.0,68.6L229.6,68.0L230.2,67.2L230.8,66.5L231.4,66.4L232.0,66.6L232.6,66.4L233.2,65.8L233.8,65.5L234.4,65.7L235.0,65.6L235.6,64.8L236.2,64.0L236.8,63.4L237.4,62.8L238.0,62.4L238.6,62.2L239.2,62.1L239.8,61.5L240.4,61.1L241.0,61.2L241.6,61.3L242.2,60.8L242.8,59.7L243.4,59.0L244.0,58.7L244.6,58.3L245.2,57.8L245.8,57.5L246.4,57.2L247.0,57.0L247.6,57.0L248.2,57.3L248.8,57.1L249.4,56.3L250.0,55.5L250.6,55.3L251.2,55.1L251.8,54.5L252.4,53.7L253.0,53.4L253.6,53.3L254.2,53.3L254.8,53.3L255.4,53.1L256.0,52.6L256.6,51.9L257.2,51.5L257.8,51.4L258.4,50.8L259.0,49.8L259.6,49.2L260.2,49.3L260.8,49.4L261.4,49.2L262.0,48.8L262.6,48.6L263.2,48.2L263.8,47.8L264.4,47.5L265.0,47.1L265.6,46.2L266.2,45.4L266.8,45.4L267.4,45.7L268.0,45.6L268.6,45.1L269.2,44.9L269.8,45.0L270.4,44.9L271.0,44.5L271.6,44.0L272.2,43.4L272.8,42.7L273.4,42.4L274.0,42.5L274.6,42.5L275.2,41.9L275.8,41.4L276.4,41.5L277.0,41.7L277.6,41.2L278.2,40.4L278.8,39.7L279.4,39.1L280.0,38.6L280.6,38.2L281.2,38.0L281.8,37.5L282.4,37.0L283.0,36.9L283.6,37.2L284.2,37.0L284.8,36.2L285.4,35.4L286.0,35.0L286.6,34.7L287.2,34.1L287.8,33.5L288.4,33.0L289.0,32.7L289.6,32.5L290.2,32.7L290.8,32.9L291.4,32.4L292.0,31.7L292.6,31.5L293.2,31.5L293.8,31.1L294.4,30.3L295.0,29.7L295.6,29.7L296.2,29.8L296.8,29.8L297.4,29.8L298.0,29.7L298.6,29.2L299.2,28.9L299.8,28.9L299.8,31.6L299.2,32.3L298.6,32.5L298.0,32.1L297.4,32.0L296.8,32.2L296.2,32.5L295.6,33.0L295.0,33.9L294.4,34.6L293.8,34.4L293.2,34.0L292.6,34.1L292.0,34.4L291.4,34.6L290.8,35.0L290.2,35.5L289.6,36.0L289.0,36.2L288.4,36.7L287.8,37.3L287.2,37.6L286.6,37.4L286.0,37.4L285.4,37.9L284.8,38.6L284.2,39.3L283.6,40.2L283.0,40.8L282.4,40.7L281.8,40.4L281.2,40.6L280.6,41.3L280.0,41.8L279.4,42.2L278.8,42.9L278.2,43.4L277.6,43.6L277.0,44.0L276.4,44.6L275.8,44.9L275.2,44.7L274.6,44.6L274.0,45.2L273.4,45.9L272.8,46.4L272.2,47.0L271.6,47.4L271.0,47.1L270.4,46.7L269.8,46.8L269.2,47.5L268.6,48.0L268.0,48.3L267.4,48.7L266.8,49.1L266.2,49.2L265.6,49.4L265.0,49.8L264.4,50.0L263.8,49.8L263.2,49.9L262.6,50.7L262.0,51.6L261.4,52.2L260.8,52.6L260.2,52.9L259.6,52.7L259.0,52.4L258.4,52.7L257.8,53.6L257.2,54.3L256.6,54.6L256.0,55.0L255.4,55.5L254.8,55.7L254.2,55.8L253.6,56.2L253.0,56.5L252.4,56.4L251.8,56.6L251.2,57.4L250.6,58.4L250.0,58.9L249.4,59.1L248.8,59.1L248.2,58.9L247.6,58.7L247.0,59.1L246.4,60.0L245.8,60.7L245.2,60.9L244.6,61.2L244.0,61.7L243.4,61.9L242.8,62.0L242.2,62.4L241.6,62.8L241.0,62.9L240.4,63.2L239.8,64.1L239.2,65.1L238.6,65.5L238.0,65.6L237.4,65.6L236.8,65.6L236.2,65.6L235.6,66.2L235.0,67.3L234.4,68.0L233.8,68.2L233.2,68.3L232.6,68.7L232.0,68.9L231.4,69.0L230.8,69.3L230.2,69.7L229.6,69.9L229.0,70.2L228.4,71.1L227.8,72.0L227.2,72.2L226.6,72.1L226.0,72.0L225.4,72.1L224.8,72.3L224.2,72.9L223.6,73.9L223.0,74.6L222.4,74.7L221.8,74.7L221.2,75.0L220.6,75.3L220.0,75.4L219.4,75.7L218.8,76.2L218.2,76.5L217.6,76.9L217.0,77.6L216.4,78.5L215.8,78.6L215.2,78.3L214.6,78.2L214.0,78.4L213.4,78.8L212.8,79.4L212.2,80.3L211.6,80.9L211.0,80.8L210.4,80.7L209.8,81.0L209.2,81.3L208.6,81.5L208.0,81.8L207.4,82.3L206.8,82.7L206.2,83.1L205.6,83.7L205.0,84.4L204.4,84.5L203.8,84.1L203.2,84.1L202.6,84.5L202.0,85.1L201.4,85.8L200.8,86.6L200.2,87.1L199.6,87.0L199.0,86.9L198.4,87.2L197.8,87.8L197.2,88.1L196.6,88.4L196.0,89.0L195.4,89.6L194.8,90.0L194.2,90.6L193.6,91.2L193.0,91.2L192.4,90.8L191.8,90.8L191.2,91.4L190.6,92.1L190.0,92.6L189.4,93.2L188.8,93.6L188.2,93.3L187.6,93.0L187.0,93.4L186.4,93.9L185.8,94.2L185.2,94.4L184.6,94.9L184.0,95.4L183.4,95.7L182.8,96.0L182.2,96.4L181.6,96.4L181.0,96.1L180.4,96.2L179.8,97.0L179.2,97.9L178.6,98.5L178.0,98.9L177.4,99.2L176.8,99.0L176.2,98.8L175.6,99.2L175.0,100.0L174.4,100.4L173.8,100.6L173.2,101.1L172.6,101.7L172.0,102.0L171.4,102.2L170.8,102.4L170.2,102.4L169.6,102.1L169.0,102.3L168.4,103.2L167.8,104.0L167.2,104.4L166.6,104.6L166.0,104.7L165.4,104.5L164.8,104.3L164.2,104.7L163.6,105.5L163.0,105.9L162.4,106.0L161.8,106.4L161.2,106.9L160.6,107.1L160.0,107.2L159.4,107.5L158.8,107.7L158.2,107.7L157.6,108.1L157.0,109.1L156.4,110.2L155.8,110.6L155.2,110.6L154.6,110.7L154.0,110.8L153.4,110.9L152.8,111.5L152.2,112.4L151.6,113.0L151.0,113.2L150.4,113.6L149.8,114.3L149.2,114.6L148.6,114.7L148.0,115.0L147.4,115.2L146.8,115.4L146.2,115.9L145.6,117.0L145.0,118.0L144.4,118.1L143.8,117.9L143.2,117.9L142.6,118.0L142.0,118.2L141.4,118.8L140.8,119.6L140.2,120.2L139.6,120.2L139.0,120.4L138.4,120.9L137.8,121.2L137.2,121.2L136.6,121.3L136.0,121.6L135.4,121.9L134.8,122.4L134.2,123.3L133.6,124.1L133.0,124.1L132.4,123.8L131.8,123.8L131.2,124.0L130.6,124.4L130.0,125.0L129.4,125.8L128.8,126.3L128.2,126.3L127.6,126.4L127.0,126.9L126.4,127.2L125.8,127.2L125.2,127.3L124.6,127.8L124.0,128.2L123.4,128.7L122.8,129.5L122.2,130.2L121.6,130.1L121.0,129.7L120.4,129.7L119.8,130.2L119.2,130.7L118.6,131.3L118.0,132.1L117.4,132.5L116.8,132.4L116.2,132.5L115.6,133.0L115.0,133.3L114.4,133.4L113.8,133.6L113.2,134.2L112.6,134.8L112.0,135.4L111.4,136.1L110.8,136.7L110.2,136.6L109.6,136.2L109.0,136.4L108.4,137.1L107.8,137.9L107.2,138.6L106.6,139.3L106.0,139.7L105.4,139.7L104.8,139.8L104.2,140.4L103.6,140.9L103.0,141.0L102.4,141.3L101.8,142.0L101.2,142.7L100.6,143.3L100.0,143.9L99.4,144.3L98.8,144.2L98.2,143.9L97.6,144.2L97.0,145.2L96.4,146.1L95.8,146.6L95.2,147.0L94.6,147.2L94.0,147.1L93.4,147.0L92.8,147.4L92.2,147.9L91.6,148.0L91.0,148.1L90.4,148.7L89.8,149.3L89.2,149.7L88.6,149.9L88.0,150.1L87.4,149.9L86.8,149.6L86.2,149.9Z" fill="url(#g_mag)" stroke="none"/>
<path d="M86.2,149.5L86.8,149.0L87.4,148.0L88.0,147.3L88.6,147.4L89.2,147.6L89.8,147.3L90.4,146.8L91.0,146.7L91.6,146.9L92.2,146.8L92.8,146.4L93.4,146.0L94.0,145.3L94.6,144.6L95.2,144.3L95.8,144.4L96.4,144.1L97.0,143.3L97.6,142.9L98.2,143.2L98.8,143.2L99.4,142.7L100.0,141.9L100.6,141.3L101.2,140.7L101.8,140.2L102.4,139.8L103.0,139.4L103.6,138.7L104.2,138.2L104.8,138.3L105.4,138.6L106.0,138.2L106.6,137.4L107.2,136.7L107.8,136.4L108.4,136.0L109.0,135.3L109.6,134.6L110.2,134.1L110.8,133.7L111.4,133.6L112.0,133.8L112.6,133.7L113.2,133.0L113.8,132.3L114.4,132.2L115.0,132.0L115.6,131.4L116.2,130.4L116.8,129.9L117.4,129.8L118.0,129.6L118.6,129.6L119.2,129.6L119.8,129.2L120.4,128.7L121.0,128.5L121.6,128.6L122.2,128.1L122.8,127.1L123.4,126.3L124.0,126.2L124.6,126.2L125.2,125.9L125.8,125.6L126.4,125.4L127.0,125.3L127.6,125.1L128.2,125.0L128.8,124.7L129.4,123.8L130.0,122.9L130.6,122.6L131.2,122.7L131.8,122.4L132.4,121.7L133.0,121.5L133.6,121.6L134.2,121.7L134.8,121.4L135.4,121.1L136.0,120.5L136.6,119.7L137.2,119.2L137.8,119.1L138.4,118.9L139.0,118.2L139.6,117.6L140.2,117.8L140.8,118.2L141.4,118.0L142.0,117.4L142.6,116.9L143.2,116.5L143.8,116.1L144.4,115.6L145.0,115.3L145.6,114.6L146.2,113.9L146.8,113.7L147.4,114.0L148.0,114.0L148.6,113.3L149.2,112.7L149.8,112.4L150.4,112.2L151.0,111.5L151.6,110.8L152.2,110.1L152.8,109.6L153.4,109.2L154.0,109.3L154.6,109.3L155.2,108.9L155.8,108.2L156.4,107.9L157.0,108.0L157.6,107.5L158.2,106.4L158.8,105.6L159.4,105.2L160.0,104.9L160.6,104.8L161.2,104.7L161.8,104.6L162.4,104.3L163.0,104.1L163.6,104.3L164.2,104.2L164.8,103.4L165.4,102.4L166.0,102.1L166.6,102.1L167.2,101.9L167.8,101.5L168.4,101.3L169.0,101.3L169.6,101.2L170.2,101.2L170.8,101.2L171.4,100.6L172.0,99.7L172.6,99.1L173.2,99.1L173.8,98.9L174.4,98.2L175.0,97.6L175.6,97.6L176.2,97.9L176.8,97.7L177.4,97.4L178.0,97.0L178.6,96.4L179.2,95.8L179.8,95.5L180.4,95.3L181.0,94.6L181.6,93.8L182.2,93.6L182.8,94.0L183.4,94.1L184.0,93.7L184.6,93.3L185.2,93.1L185.8,92.8L186.4,92.4L187.0,92.0L187.6,91.4L188.2,90.8L188.8,90.4L189.4,90.7L190.0,91.0L190.6,90.6L191.2,90.1L191.8,89.9L192.4,90.0L193.0,89.7L193.6,88.9L194.2,88.1L194.8,87.6L195.4,87.1L196.0,86.9L196.6,86.9L197.2,86.7L197.8,86.1L198.4,85.7L199.0,85.9L199.6,85.8L200.2,84.9L200.8,84.0L201.4,83.5L202.0,83.2L202.6,82.9L203.2,82.6L203.8,82.4L204.4,82.1L205.0,81.8L205.6,81.9L206.2,82.0L206.8,81.4L207.4,80.4L208.0,79.8L208.6,79.7L209.2,79.4L209.8,78.8L210.4,78.3L211.0,78.2L211.6,78.2L212.2,78.2L212.8,78.2L213.4,77.9L214.0,77.2L214.6,76.5L215.2,76.3L215.8,76.2L216.4,75.4L217.0,74.6L217.6,74.3L218.2,74.6L218.8,74.6L219.4,74.3L220.0,74.0L220.6,73.6L221.2,73.0L221.8,72.6L222.4,72.4L223.0,71.8L223.6,70.8L224.2,70.3L224.8,70.5L225.4,70.7L226.0,70.4L226.6,69.8L227.2,69.6L227.8,69.5L228.4,69.1L229.0,68.6L229.6,68.0L230.2,67.2L230.8,66.5L231.4,66.4L232.0,66.6L232.6,66.4L233.2,65.8L233.8,65.5L234.4,65.7L235.0,65.6L235.6,64.8L236.2,64.0L236.8,63.4L237.4,62.8L238.0,62.4L238.6,62.2L239.2,62.1L239.8,61.5L240.4,61.1L241.0,61.2L241.6,61.3L242.2,60.8L242.8,59.7L243.4,59.0L244.0,58.7L244.6,58.3L245.2,57.8L245.8,57.5L246.4,57.2L247.0,57.0L247.6,57.0L248.2,57.3L248.8,57.1L249.4,56.3L250.0,55.5L250.6,55.3L251.2,55.1L251.8,54.5L252.4,53.7L253.0,53.4L253.6,53.3L254.2,53.3L254.8,53.3L255.4,53.1L256.0,52.6L256.6,51.9L257.2,51.5L257.8,51.4L258.4,50.8L259.0,49.8L259.6,49.2L260.2,49.3L260.8,49.4L261.4,49.2L262.0,48.8L262.6,48.6L263.2,48.2L263.8,47.8L264.4,47.5L265.0,47.1L265.6,46.2L266.2,45.4L266.8,45.4L267.4,45.7L268.0,45.6L268.6,45.1L269.2,44.9L269.8,45.0L270.4,44.9L271.0,44.5L271.6,44.0L272.2,43.4L272.8,42.7L273.4,42.4L274.0,42.5L274.6,42.5L275.2,41.9L275.8,41.4L276.4,41.5L277.0,41.7L277.6,41.2L278.2,40.4L278.8,39.7L279.4,39.1L280.0,38.6L280.6,38.2L281.2,38.0L281.8,37.5L282.4,37.0L283.0,36.9L283.6,37.2L284.2,37.0L284.8,36.2L285.4,35.4L286.0,35.0L286.6,34.7L287.2,34.1L287.8,33.5L288.4,33.0L289.0,32.7L289.6,32.5L290.2,32.7L290.8,32.9L291.4,32.4L292.0,31.7L292.6,31.5L293.2,31.5L293.8,31.1L294.4,30.3L295.0,29.7L295.6,29.7L296.2,29.8L296.8,29.8L297.4,29.8L298.0,29.7L298.6,29.2L299.2,28.9L299.8,28.9" fill="none" stroke="#ff00ff" stroke-width="1.5" stroke-linejoin="round" stroke-linecap="butt"/>
<path d="M86.2,149.9L86.8,149.6L87.4,149.9L88.0,150.1L88.6,149.9L89.2,149.7L89.8,149.3L90.4,148.7L91.0,148.1L91.6,148.0L92.2,147.9L92.8,147.4L93.4,147.0L94.0,147.1L94.6,147.2L95.2,147.0L95.8,146.6L96.4,146.1L97.0,145.2L97.6,144.2L98.2,143.9L98.8,144.2L99.4,144.3L100.0,143.9L100.6,143.3L101.2,142.7L101.8,142.0L102.4,141.3L103.0,141.0L103.6,140.9L104.2,140.4L104.8,139.8L105.4,139.7L106.0,139.7L106.6,139.3L107.2,138.6L107.8,137.9L108.4,137.1L109.0,136.4L109.6,136.2L110.2,136.6L110.8,136.7L111.4,136.1L112.0,135.4L112.6,134.8L113.2,134.2L113.8,133.6L114.4,133.4L115.0,133.3L115.6,133.0L116.2,132.5L116.8,132.4L117.4,132.5L118.0,132.1L118.6,131.3L119.2,130.7L119.8,130.2L120.4,129.7L121.0,129.7L121.6,130.1L122.2,130.2L122.8,129.5L123.4,128.7L124.0,128.2L124.6,127.8L125.2,127.3L125.8,127.2L126.4,127.2L127.0,126.9L127.6,126.4L128.2,126.3L128.8,126.3L129.4,125.8L130.0,125.0L130.6,124.4L131.2,124.0L131.8,123.8L132.4,123.8L133.0,124.1L133.6,124.1L134.2,123.3L134.8,122.4L135.4,121.9L136.0,121.6L136.6,121.3L137.2,121.2L137.8,121.2L138.4,120.9L139.0,120.4L139.6,120.2L140.2,120.2L140.8,119.6L141.4,118.8L142.0,118.2L142.6,118.0L143.2,117.9L143.8,117.9L144.4,118.1L145.0,118.0L145.6,117.0L146.2,115.9L146.8,115.4L147.4,115.2L148.0,115.0L148.6,114.7L149.2,114.6L149.8,114.3L150.4,113.6L151.0,113.2L151.6,113.0L152.2,112.4L152.8,111.5L153.4,110.9L154.0,110.8L154.6,110.7L155.2,110.6L155.8,110.6L156.4,110.2L157.0,109.1L157.6,108.1L158.2,107.7L158.8,107.7L159.4,107.5L160.0,107.2L160.6,107.1L161.2,106.9L161.8,106.4L162.4,106.0L163.0,105.9L163.6,105.5L164.2,104.7L164.8,104.3L165.4,104.5L166.0,104.7L166.6,104.6L167.2,104.4L167.8,104.0L168.4,103.2L169.0,102.3L169.6,102.1L170.2,102.4L170.8,102.4L171.4,102.2L172.0,102.0L172.6,101.7L173.2,101.1L173.8,100.6L174.4,100.4L175.0,100.0L175.6,99.2L176.2,98.8L176.8,99.0L177.4,99.2L178.0,98.9L178.6,98.5L179.2,97.9L179.8,97.0L180.4,96.2L181.0,96.1L181.6,96.4L182.2,96.4L182.8,96.0L183.4,95.7L184.0,95.4L184.6,94.9L185.2,94.4L185.8,94.2L186.4,93.9L187.0,93.4L187.6,93.0L188.2,93.3L188.8,93.6L189.4,93.2L190.0,92.6L190.6,92.1L191.2,91.4L191.8,90.8L192.4,90.8L193.0,91.2L193.6,91.2L194.2,90.6L194.8,90.0L195.4,89.6L196.0,89.0L196.6,88.4L197.2,88.1L197.8,87.8L198.4,87.2L199.0,86.9L199.6,87.0L200.2,87.1L200.8,86.6L201.4,85.8L202.0,85.1L202.6,84.5L203.2,84.1L203.8,84.1L204.4,84.5L205.0,84.4L205.6,83.7L206.2,83.1L206.8,82.7L207.4,82.3L208.0,81.8L208.6,81.5L209.2,81.3L209.8,81.0L210.4,80.7L211.0,80.8L211.6,80.9L212.2,80.3L212.8,79.4L213.4,78.8L214.0,78.4L214.6,78.2L215.2,78.3L215.8,78.6L216.4,78.5L217.0,77.6L217.6,76.9L218.2,76.5L218.8,76.2L219.4,75.7L220.0,75.4L220.6,75.3L221.2,75.0L221.8,74.7L222.4,74.7L223.0,74.6L223.6,73.9L224.2,72.9L224.8,72.3L225.4,72.1L226.0,72.0L226.6,72.1L227.2,72.2L227.8,72.0L228.4,71.1L229.0,70.2L229.6,69.9L230.2,69.7L230.8,69.3L231.4,69.0L232.0,68.9L232.6,68.7L233.2,68.3L233.8,68.2L234.4,68.0L235.0,67.3L235.6,66.2L236.2,65.6L236.8,65.6L237.4,65.6L238.0,65.6L238.6,65.5L239.2,65.1L239.8,64.1L240.4,63.2L241.0,62.9L241.6,62.8L242.2,62.4L242.8,62.0L243.4,61.9L244.0,61.7L244.6,61.2L245.2,60.9L245.8,60.7L246.4,60.0L247.0,59.1L247.6,58.7L248.2,58.9L248.8,59.1L249.4,59.1L250.0,58.9L250.6,58.4L251.2,57.4L251.8,56.6L252.4,56.4L253.0,56.5L253.6,56.2L254.2,55.8L254.8,55.7L255.4,55.5L256.0,55.0L256.6,54.6L257.2,54.3L257.8,53.6L258.4,52.7L259.0,52.4L259.6,52.7L260.2,52.9L260.8,52.6L261.4,52.2L262.0,51.6L262.6,50.7L263.2,49.9L263.8,49.8L264.4,50.0L265.0,49.8L265.6,49.4L266.2,49.2L266.8,49.1L267.4,48.7L268.0,48.3L268.6,48.0L269.2,47.5L269.8,46.8L270.4,46.7L271.0,47.1L271.6,47.4L272.2,47.0L272.8,46.4L273.4,45.9L274.0,45.2L274.6,44.6L275.2,44.7L275.8,44.9L276.4,44.6L277.0,44.0L277.6,43.6L278.2,43.4L278.8,42.9L279.4,42.2L280.0,41.8L280.6,41.3L281.2,40.6L281.8,40.4L282.4,40.7L283.0,40.8L283.6,40.2L284.2,39.3L284.8,38.6L285.4,37.9L286.0,37.4L286.6,37.4L287.2,37.6L287.8,37.3L288.4,36.7L289.0,36.2L289.6,36.0L290.2,35.5L290.8,35.0L291.4,34.6L292.0,34.4L292.6,34.1L293.2,34.0L293.8,34.4L294.4,34.6L295.0,33.9L295.6,33.0L296.2,32.5L296.8,32.2L297.4,32.0L298.0,32.1L298.6,32.5L299.2,32.3L299.8,31.6" fill="none" stroke="#ff00ff" stroke-width="1.5" stroke-linejoin="round" stroke-linecap="butt"/>
<path d="M86.2,165.3L86.8,164.9L87.4,164.6L88.0,163.9L88.6,162.9L89.2,162.3L89.8,162.3L90.4,162.5L91.0,162.3L91.6,161.5L92.2,160.7L92.8,160.3L93.4,160.0L94.0,159.5L94.6,158.4L95.2,157.5L95.8,157.1L96.4,157.2L97.0,157.1L97.6,156.7L98.2,156.1L98.8,155.7L99.4,155.3L100.0,154.8L100.6,153.9L101.2,153.0L101.8,152.2L102.4,151.7L103.0,151.4L103.6,151.1L104.2,150.8L104.8,150.4L105.4,149.9L106.0,149.3L106.6,148.9L107.2,148.3L107.8,147.4L108.4,146.4L109.0,145.7L109.6,145.5L110.2,145.5L110.8,145.3L111.4,144.7L112.0,144.1L112.6,143.9L113.2,143.8L113.8,143.3L114.4,142.2L115.0,141.1L115.6,140.7L116.2,140.7L116.8,140.5L117.4,139.9L118.0,139.3L118.6,139.1L119.2,139.3L119.8,139.0L120.4,138.2L121.0,137.1L121.6,136.4L122.2,136.1L122.8,135.8L123.4,135.3L124.0,134.7L124.6,134.4L125.2,134.4L125.8,134.3L126.4,133.9L127.0,133.3L127.6,132.5L128.2,131.8L128.8,131.2L129.4,130.8L130.0,130.4L130.6,129.9L131.2,129.5L131.8,129.2L132.4,129.1L133.0,129.0L133.6,128.5L134.2,127.6L134.8,126.7L135.4,126.1L136.0,125.8L136.6,125.4L137.2,124.6L137.8,123.9L138.4,123.8L139.0,124.1L139.6,123.9L140.2,123.1L140.8,122.1L141.4,121.4L142.0,121.2L142.6,120.7L143.2,119.8L143.8,118.8L144.4,118.4L145.0,118.5L145.6,118.6L146.2,118.1L146.8,117.3L147.4,116.7L148.0,116.3L148.6,115.8L149.2,115.0L149.8,114.1L150.4,113.4L151.0,113.1L151.6,112.9L152.2,112.7L152.8,112.4L153.4,111.9L154.0,111.4L154.6,110.8L155.2,110.2L155.8,109.6L156.4,108.8L157.0,108.0L157.6,107.4L158.2,107.2L158.8,107.2L159.4,107.0L160.0,106.4L160.6,105.8L161.2,105.4L161.8,105.2L162.4,104.8L163.0,103.8L163.6,102.8L164.2,102.4L164.8,102.5L165.4,102.5L166.0,102.0L166.6,101.3L167.2,100.9L167.8,100.9L168.4,100.6L169.0,99.7L169.6,98.5L170.2,97.8L170.8,97.6L171.4,97.6L172.0,97.3L172.6,96.8L173.2,96.5L173.8,96.5L174.4,96.5L175.0,96.1L175.6,95.3L176.2,94.6L176.8,94.0L177.4,93.6L178.0,93.3L178.6,93.0L179.2,92.7L179.8,92.5L180.4,92.3L181.0,92.2L181.6,92.0L182.2,91.5L182.8,90.7L183.4,89.9L184.0,89.5L184.6,89.4L185.2,89.2L185.8,88.8L186.4,88.3L187.0,88.2L187.6,88.5L188.2,88.5L188.8,87.9L189.4,87.0L190.0,86.5L190.6,86.6L191.2,86.6L191.8,86.6L192.4,86.8L193.0,87.5L193.6,88.8L194.2,90.6L194.8,91.8L195.4,91.9L196.0,91.8L196.6,92.1L197.2,92.5L197.8,92.4L198.4,91.9L199.0,91.7L199.6,91.9L200.2,92.3L200.8,92.5L201.4,92.5L202.0,92.3L202.6,92.2L203.2,91.9L203.8,91.5L204.4,91.0L205.0,90.6L205.6,90.1L206.2,89.8L206.8,89.8L207.4,90.0L208.0,90.0L208.6,89.6L209.2,88.7L209.8,87.9L210.4,87.4L211.0,86.8L211.6,85.8L212.2,84.6L212.8,84.0L213.4,83.9L214.0,83.8L214.6,83.5L215.2,82.7L215.8,82.1L216.4,81.9L217.0,81.6L217.6,80.8L218.2,79.7L218.8,78.8L219.4,78.6L220.0,78.7L220.6,78.4L221.2,77.8L221.8,77.3L222.4,77.0L223.0,76.9L223.6,76.4L224.2,75.4L224.8,74.5L225.4,73.8L226.0,73.5L226.6,73.2L227.2,72.8L227.8,72.4L228.4,72.0L229.0,71.7L229.6,71.3L230.2,70.8L230.8,70.2L231.4,69.3L232.0,68.4L232.6,67.8L233.2,67.5L233.8,67.3L234.4,66.8L235.0,66.2L235.6,65.9L236.2,65.8L236.8,65.7L237.4,64.9L238.0,63.8L238.6,62.9L239.2,62.6L239.8,62.5L240.4,62.0L241.0,61.1L241.6,60.5L242.2,60.4L242.8,60.4L243.4,59.9L244.0,58.8L244.6,57.7L245.2,57.0L245.8,56.6L246.4,56.1L247.0,55.2L247.6,54.4L248.2,54.1L248.8,54.1L249.4,53.8L250.0,53.2L250.6,52.4L251.2,51.6L251.8,51.0L252.4,50.3L253.0,49.6L253.6,48.9L254.2,48.3L254.8,47.9L255.4,47.7L256.0,47.5L256.6,47.2L257.2,46.5L257.8,45.6L258.4,44.8L259.0,44.3L259.6,43.8L260.2,43.2L260.8,42.3L261.4,41.8L262.0,41.8L262.6,42.0L263.2,41.7L263.8,40.9L264.4,40.1L265.0,39.8L265.6,39.5L266.2,39.0L266.8,37.9L267.4,37.1L268.0,36.9L268.6,37.1L269.2,37.1L269.8,36.5L270.4,35.8L271.0,35.4L271.6,35.3L272.2,34.8L272.8,33.9L273.4,32.8L274.0,32.2L274.6,32.0L275.2,31.8L275.8,31.4L276.4,31.0L277.0,30.5L277.6,30.2L278.2,29.7L278.8,29.1L279.4,28.3L280.0,27.4L280.6,26.7L281.2,26.2L281.8,26.1L282.4,26.0L283.0,25.7L283.6,25.2L284.2,24.7L284.8,24.4L285.4,24.1L286.0,23.3L286.6,22.2L287.2,21.2L287.8,20.7L288.4,20.7L289.0,20.4L289.6,19.7L290.2,19.0L290.8,18.9L291.4,19.0L292.0,18.7L292.6,17.8L293.2,16.7L293.8,16.1L294.4,15.9L295.0,15.8L295.6,15.2L296.2,14.6L296.8,14.3L297.4,14.5L298.0,14.4L298.6,13.8L299.2,13.0L299.8,12.2L299.8,16.9L299.2,17.3L298.6,17.7L298.0,17.8L297.4,17.9L296.8,18.4L296.2,18.9L295.6,19.2L295.0,19.3L294.4,19.8L293.8,20.8L293.2,21.9L292.6,22.3L292.0,22.2L291.4,22.4L290.8,22.8L290.2,23.2L289.6,23.6L289.0,24.0L288.4,24.5L287.8,25.2L287.2,25.9L286.6,26.9L286.0,27.8L285.4,28.3L284.8,28.3L284.2,28.4L283.6,28.8L283.0,29.6L282.4,30.0L281.8,30.1L281.2,30.5L280.6,31.4L280.0,32.4L279.4,33.0L278.8,33.4L278.2,33.6L277.6,33.8L277.0,34.1L276.4,34.5L275.8,35.1L275.2,35.8L274.6,36.2L274.0,36.6L273.4,37.4L272.8,38.5L272.2,39.1L271.6,39.1L271.0,38.8L270.4,39.1L269.8,39.7L269.2,40.2L268.6,40.5L268.0,41.0L267.4,41.6L266.8,42.3L266.2,42.9L265.6,43.5L265.0,43.9L264.4,43.9L263.8,43.8L263.2,44.0L262.6,44.7L262.0,45.5L261.4,45.9L260.8,46.1L260.2,46.8L259.6,47.8L259.0,48.6L258.4,48.8L257.8,48.9L257.2,49.1L256.6,49.5L256.0,50.0L255.4,50.7L254.8,51.5L254.2,52.2L253.6,52.6L253.0,53.2L252.4,54.1L251.8,54.9L251.2,55.1L250.6,54.9L250.0,55.0L249.4,55.8L248.8,56.8L248.2,57.5L247.6,57.9L247.0,58.6L246.4,59.5L245.8,60.2L245.2,60.7L244.6,61.1L244.0,61.4L243.4,61.5L242.8,61.8L242.2,62.6L241.6,63.7L241.0,64.6L240.4,64.9L239.8,65.3L239.2,66.0L238.6,66.8L238.0,67.2L237.4,67.0L236.8,67.0L236.2,67.4L235.6,68.1L235.0,68.7L234.4,69.4L233.8,70.2L233.2,70.7L232.6,71.0L232.0,71.5L231.4,72.2L230.8,72.6L230.2,72.5L229.6,72.5L229.0,73.0L228.4,74.2L227.8,75.1L227.2,75.5L226.6,75.9L226.0,76.5L225.4,77.2L224.8,77.6L224.2,77.8L223.6,78.0L223.0,78.2L222.4,78.5L221.8,79.1L221.2,80.1L220.6,81.1L220.0,81.5L219.4,81.6L218.8,82.0L218.2,82.7L217.6,83.3L217.0,83.3L216.4,83.2L215.8,83.6L215.2,84.5L214.6,85.4L214.0,86.0L213.4,86.8L212.8,87.4L212.2,87.9L211.6,88.3L211.0,88.9L210.4,89.6L209.8,90.0L209.2,90.2L208.6,90.7L208.0,91.5L207.4,92.5L206.8,93.0L206.2,92.9L205.6,92.9L205.0,93.3L204.4,93.6L203.8,93.7L203.2,93.6L202.6,93.6L202.0,93.8L201.4,94.0L200.8,94.5L200.2,95.0L199.6,95.2L199.0,94.9L198.4,94.5L197.8,94.5L197.2,94.6L196.6,94.3L196.0,93.6L195.4,93.1L194.8,92.9L194.2,92.4L193.6,91.5L193.0,90.7L192.4,89.9L191.8,89.1L191.2,88.7L190.6,88.7L190.0,88.9L189.4,89.0L188.8,89.1L188.2,89.3L187.6,90.0L187.0,91.0L186.4,91.7L185.8,91.7L185.2,91.4L184.6,91.5L184.0,92.0L183.4,92.4L182.8,92.5L182.2,92.6L181.6,93.2L181.0,93.9L180.4,94.5L179.8,95.1L179.2,95.6L178.6,95.7L178.0,95.6L177.4,95.6L176.8,96.1L176.2,96.8L175.6,97.0L175.0,97.1L174.4,97.6L173.8,98.6L173.2,99.4L172.6,99.7L172.0,99.6L171.4,99.6L170.8,99.9L170.2,100.2L169.6,100.6L169.0,101.2L168.4,101.8L167.8,102.2L167.2,102.8L166.6,103.7L166.0,104.6L165.4,104.9L164.8,104.7L164.2,104.6L163.6,105.1L163.0,105.9L162.4,106.3L161.8,106.6L161.2,107.0L160.6,107.8L160.0,108.6L159.4,109.2L158.8,109.6L158.2,109.9L157.6,110.0L157.0,110.1L156.4,110.6L155.8,111.5L155.2,112.3L154.6,112.7L154.0,113.1L153.4,113.9L152.8,114.9L152.2,115.5L151.6,115.5L151.0,115.4L150.4,115.8L149.8,116.4L149.2,117.1L148.6,117.7L148.0,118.4L147.4,119.0L146.8,119.6L146.2,120.2L145.6,120.9L145.0,121.4L144.4,121.4L143.8,121.3L143.2,121.7L142.6,122.7L142.0,123.6L141.4,124.1L140.8,124.5L140.2,125.1L139.6,126.0L139.0,126.6L138.4,126.8L137.8,126.9L137.2,127.1L136.6,127.4L136.0,127.9L135.4,128.7L134.8,129.7L134.2,130.3L133.6,130.6L133.0,131.0L132.4,131.8L131.8,132.5L131.2,132.6L130.6,132.3L130.0,132.5L129.4,133.2L128.8,134.1L128.2,134.8L127.6,135.3L127.0,135.8L126.4,136.3L125.8,136.7L125.2,137.1L124.6,137.6L124.0,137.8L123.4,137.7L122.8,137.9L122.2,138.7L121.6,139.9L121.0,140.6L120.4,140.8L119.8,141.1L119.2,141.7L118.6,142.3L118.0,142.6L117.4,142.6L116.8,142.7L116.2,143.1L115.6,143.7L115.0,144.5L114.4,145.4L113.8,146.1L113.2,146.4L112.6,146.5L112.0,146.9L111.4,147.6L110.8,148.0L110.2,148.0L109.6,148.0L109.0,148.7L108.4,149.8L107.8,150.7L107.2,151.2L106.6,151.6L106.0,152.1L105.4,152.6L104.8,153.0L104.2,153.4L103.6,153.8L103.0,154.1L102.4,154.5L101.8,155.2L101.2,156.4L100.6,157.4L100.0,157.8L99.4,157.9L98.8,158.2L98.2,158.9L97.6,159.4L97.0,159.5L96.4,159.6L95.8,160.1L95.2,160.9L94.6,161.7L94.0,162.5L93.4,163.1L92.8,163.5L92.2,163.6L91.6,163.8L91.0,164.3L90.4,164.9L89.8,165.3L89.2,165.3L88.6,165.8L88.0,166.9L87.4,168.0L86.8,168.6L86.2,168.7Z" fill="url(#g_green)" stroke="none"/>
<path d="M86.2,165.3L86.8,164.9L87.4,164.6L88.0,163.9L88.6,162.9L89.2,162.3L89.8,162.3L90.4,162.5L91.0,162.3L91.6,161.5L92.2,160.7L92.8,160.3L93.4,160.0L94.0,159.5L94.6,158.4L95.2,157.5L95.8,157.1L96.4,157.2L97.0,157.1L97.6,156.7L98.2,156.1L98.8,155.7L99.4,155.3L100.0,154.8L100.6,153.9L101.2,153.0L101.8,152.2L102.4,151.7L103.0,151.4L103.6,151.1L104.2,150.8L104.8,150.4L105.4,149.9L106.0,149.3L106.6,148.9L107.2,148.3L107.8,147.4L108.4,146.4L109.0,145.7L109.6,145.5L110.2,145.5L110.8,145.3L111.4,144.7L112.0,144.1L112.6,143.9L113.2,143.8L113.8,143.3L114.4,142.2L115.0,141.1L115.6,140.7L116.2,140.7L116.8,140.5L117.4,139.9L118.0,139.3L118.6,139.1L119.2,139.3L119.8,139.0L120.4,138.2L121.0,137.1L121.6,136.4L122.2,136.1L122.8,135.8L123.4,135.3L124.0,134.7L124.6,134.4L125.2,134.4L125.8,134.3L126.4,133.9L127.0,133.3L127.6,132.5L128.2,131.8L128.8,131.2L129.4,130.8L130.0,130.4L130.6,129.9L131.2,129.5L131.8,129.2L132.4,129.1L133.0,129.0L133.6,128.5L134.2,127.6L134.8,126.7L135.4,126.1L136.0,125.8L136.6,125.4L137.2,124.6L137.8,123.9L138.4,123.8L139.0,124.1L139.6,123.9L140.2,123.1L140.8,122.1L141.4,121.4L142.0,121.2L142.6,120.7L143.2,119.8L143.8,118.8L144.4,118.4L145.0,118.5L145.6,118.6L146.2,118.1L146.8,117.3L147.4,116.7L148.0,116.3L148.6,115.8L149.2,115.0L149.8,114.1L150.4,113.4L151.0,113.1L151.6,112.9L152.2,112.7L152.8,112.4L153.4,111.9L154.0,111.4L154.6,110.8L155.2,110.2L155.8,109.6L156.4,108.8L157.0,108.0L157.6,107.4L158.2,107.2L158.8,107.2L159.4,107.0L160.0,106.4L160.6,105.8L161.2,105.4L161.8,105.2L162.4,104.8L163.0,103.8L163.6,102.8L164.2,102.4L164.8,102.5L165.4,102.5L166.0,102.0L166.6,101.3L167.2,100.9L167.8,100.9L168.4,100.6L169.0,99.7L169.6,98.5L170.2,97.8L170.8,97.6L171.4,97.6L172.0,97.3L172.6,96.8L173.2,96.5L173.8,96.5L174.4,96.5L175.0,96.1L175.6,95.3L176.2,94.6L176.8,94.0L177.4,93.6L178.0,93.3L178.6,93.0L179.2,92.7L179.8,92.5L180.4,92.3L181.0,92.2L181.6,92.0L182.2,91.5L182.8,90.7L183.4,89.9L184.0,89.5L184.6,89.4L185.2,89.2L185.8,88.8L186.4,88.3L187.0,88.2L187.6,88.5L188.2,88.5L188.8,87.9L189.4,87.0L190.0,86.5L190.6,86.6L191.2,86.6L191.8,86.6L192.4,86.8L193.0,87.5L193.6,88.8L194.2,90.6L194.8,91.8L195.4,91.9L196.0,91.8L196.6,92.1L197.2,92.5L197.8,92.4L198.4,91.9L199.0,91.7L199.6,91.9L200.2,92.3L200.8,92.5L201.4,92.5L202.0,92.3L202.6,92.2L203.2,91.9L203.8,91.5L204.4,91.0L205.0,90.6L205.6,90.1L206.2,89.8L206.8,89.8L207.4,90.0L208.0,90.0L208.6,89.6L209.2,88.7L209.8,87.9L210.4,87.4L211.0,86.8L211.6,85.8L212.2,84.6L212.8,84.0L213.4,83.9L214.0,83.8L214.6,83.5L215.2,82.7L215.8,82.1L216.4,81.9L217.0,81.6L217.6,80.8L218.2,79.7L218.8,78.8L219.4,78.6L220.0,78.7L220.6,78.4L221.2,77.8L221.8,77.3L222.4,77.0L223.0,76.9L223.6,76.4L224.2,75.4L224.8,74.5L225.4,73.8L226.0,73.5L226.6,73.2L227.2,72.8L227.8,72.4L228.4,72.0L229.0,71.7L229.6,71.3L230.2,70.8L230.8,70.2L231.4,69.3L232.0,68.4L232.6,67.8L233.2,67.5L233.8,67.3L234.4,66.8L235.0,66.2L235.6,65.9L236.2,65.8L236.8,65.7L237.4,64.9L238.0,63.8L238.6,62.9L239.2,62.6L239.8,62.5L240.4,62.0L241.0,61.1L241.6,60.5L242.2,60.4L242.8,60.4L243.4,59.9L244.0,58.8L244.6,57.7L245.2,57.0L245.8,56.6L246.4,56.1L247.0,55.2L247.6,54.4L248.2,54.1L248.8,54.1L249.4,53.8L250.0,53.2L250.6,52.4L251.2,51.6L251.8,51.0L252.4,50.3L253.0,49.6L253.6,48.9L254.2,48.3L254.8,47.9L255.4,47.7L256.0,47.5L256.6,47.2L257.2,46.5L257.8,45.6L258.4,44.8L259.0,44.3L259.6,43.8L260.2,43.2L260.8,42.3L261.4,41.8L262.0,41.8L262.6,42.0L263.2,41.7L263.8,40.9L264.4,40.1L265.0,39.8L265.6,39.5L266.2,39.0L266.8,37.9L267.4,37.1L268.0,36.9L268.6,37.1L269.2,37.1L269.8,36.5L270.4,35.8L271.0,35.4L271.6,35.3L272.2,34.8L272.8,33.9L273.4,32.8L274.0,32.2L274.6,32.0L275.2,31.8L275.8,31.4L276.4,31.0L277.0,30.5L277.6,30.2L278.2,29.7L278.8,29.1L279.4,28.3L280.0,27.4L280.6,26.7L281.2,26.2L281.8,26.1L282.4,26.0L283.0,25.7L283.6,25.2L284.2,24.7L284.8,24.4L285.4,24.1L286.0,23.3L286.6,22.2L287.2,21.2L287.8,20.7L288.4,20.7L289.0,20.4L289.6,19.7L290.2,19.0L290.8,18.9L291.4,19.0L292.0,18.7L292.6,17.8L293.2,16.7L293.8,16.1L294.4,15.9L295.0,15.8L295.6,15.2L296.2,14.6L296.8,14.3L297.4,14.5L298.0,14.4L298.6,13.8L299.2,13.0L299.8,12.2" fill="none" stroke="#008000" stroke-width="1.6" stroke-linejoin="round" stroke-linecap="butt"/>
<path d="M86.2,168.7L86.8,168.6L87.4,168.0L88.0,166.9L88.6,165.8L89.2,165.3L89.8,165.3L90.4,164.9L91.0,164.3L91.6,163.8L92.2,163.6L92.8,163.5L93.4,163.1L94.0,162.5L94.6,161.7L95.2,160.9L95.8,160.1L96.4,159.6L97.0,159.5L97.6,159.4L98.2,158.9L98.8,158.2L99.4,157.9L100.0,157.8L100.6,157.4L101.2,156.4L101.8,155.2L102.4,154.5L103.0,154.1L103.6,153.8L104.2,153.4L104.8,153.0L105.4,152.6L106.0,152.1L106.6,151.6L107.2,151.2L107.8,150.7L108.4,149.8L109.0,148.7L109.6,148.0L110.2,148.0L110.8,148.0L111.4,147.6L112.0,146.9L112.6,146.5L113.2,146.4L113.8,146.1L114.4,145.4L115.0,144.5L115.6,143.7L116.2,143.1L116.8,142.7L117.4,142.6L118.0,142.6L118.6,142.3L119.2,141.7L119.8,141.1L120.4,140.8L121.0,140.6L121.6,139.9L122.2,138.7L122.8,137.9L123.4,137.7L124.0,137.8L124.6,137.6L125.2,137.1L125.8,136.7L126.4,136.3L127.0,135.8L127.6,135.3L128.2,134.8L128.8,134.1L129.4,133.2L130.0,132.5L130.6,132.3L131.2,132.6L131.8,132.5L132.4,131.8L133.0,131.0L133.6,130.6L134.2,130.3L134.8,129.7L135.4,128.7L136.0,127.9L136.6,127.4L137.2,127.1L137.8,126.9L138.4,126.8L139.0,126.6L139.6,126.0L140.2,125.1L140.8,124.5L141.4,124.1L142.0,123.6L142.6,122.7L143.2,121.7L143.8,121.3L144.4,121.4L145.0,121.4L145.6,120.9L146.2,120.2L146.8,119.6L147.4,119.0L148.0,118.4L148.6,117.7L149.2,117.1L149.8,116.4L150.4,115.8L151.0,115.4L151.6,115.5L152.2,115.5L152.8,114.9L153.4,113.9L154.0,113.1L154.6,112.7L155.2,112.3L155.8,111.5L156.4,110.6L157.0,110.1L157.6,110.0L158.2,109.9L158.8,109.6L159.4,109.2L160.0,108.6L160.6,107.8L161.2,107.0L161.8,106.6L162.4,106.3L163.0,105.9L163.6,105.1L164.2,104.6L164.8,104.7L165.4,104.9L166.0,104.6L166.6,103.7L167.2,102.8L167.8,102.2L168.4,101.8L169.0,101.2L169.6,100.6L170.2,100.2L170.8,99.9L171.4,99.6L172.0,99.6L172.6,99.7L173.2,99.4L173.8,98.6L174.4,97.6L175.0,97.1L175.6,97.0L176.2,96.8L176.8,96.1L177.4,95.6L178.0,95.6L178.6,95.7L179.2,95.6L179.8,95.1L180.4,94.5L181.0,93.9L181.6,93.2L182.2,92.6L182.8,92.5L183.4,92.4L184.0,92.0L184.6,91.5L185.2,91.4L185.8,91.7L186.4,91.7L187.0,91.0L187.6,90.0L188.2,89.3L188.8,89.1L189.4,89.0L190.0,88.9L190.6,88.7L191.2,88.7L191.8,89.1L192.4,89.9L193.0,90.7L193.6,91.5L194.2,92.4L194.8,92.9L195.4,93.1L196.0,93.6L196.6,94.3L197.2,94.6L197.8,94.5L198.4,94.5L199.0,94.9L199.6,95.2L200.2,95.0L200.8,94.5L201.4,94.0L202.0,93.8L202.6,93.6L203.2,93.6L203.8,93.7L204.4,93.6L205.0,93.3L205.6,92.9L206.2,92.9L206.8,93.0L207.4,92.5L208.0,91.5L208.6,90.7L209.2,90.2L209.8,90.0L210.4,89.6L211.0,88.9L211.6,88.3L212.2,87.9L212.8,87.4L213.4,86.8L214.0,86.0L214.6,85.4L215.2,84.5L215.8,83.6L216.4,83.2L217.0,83.3L217.6,83.3L218.2,82.7L218.8,82.0L219.4,81.6L220.0,81.5L220.6,81.1L221.2,80.1L221.8,79.1L222.4,78.5L223.0,78.2L223.6,78.0L224.2,77.8L224.8,77.6L225.4,77.2L226.0,76.5L226.6,75.9L227.2,75.5L227.8,75.1L228.4,74.2L229.0,73.0L229.6,72.5L230.2,72.5L230.8,72.6L231.4,72.2L232.0,71.5L232.6,71.0L233.2,70.7L233.8,70.2L234.4,69.4L235.0,68.7L235.6,68.1L236.2,67.4L236.8,67.0L237.4,67.0L238.0,67.2L238.6,66.8L239.2,66.0L239.8,65.3L240.4,64.9L241.0,64.6L241.6,63.7L242.2,62.6L242.8,61.8L243.4,61.5L244.0,61.4L244.6,61.1L245.2,60.7L245.8,60.2L246.4,59.5L247.0,58.6L247.6,57.9L248.2,57.5L248.8,56.8L249.4,55.8L250.0,55.0L250.6,54.9L251.2,55.1L251.8,54.9L252.4,54.1L253.0,53.2L253.6,52.6L254.2,52.2L254.8,51.5L255.4,50.7L256.0,50.0L256.6,49.5L257.2,49.1L257.8,48.9L258.4,48.8L259.0,48.6L259.6,47.8L260.2,46.8L260.8,46.1L261.4,45.9L262.0,45.5L262.6,44.7L263.2,44.0L263.8,43.8L264.4,43.9L265.0,43.9L265.6,43.5L266.2,42.9L266.8,42.3L267.4,41.6L268.0,41.0L268.6,40.5L269.2,40.2L269.8,39.7L270.4,39.1L271.0,38.8L271.6,39.1L272.2,39.1L272.8,38.5L273.4,37.4L274.0,36.6L274.6,36.2L275.2,35.8L275.8,35.1L276.4,34.5L277.0,34.1L277.6,33.8L278.2,33.6L278.8,33.4L279.4,33.0L280.0,32.4L280.6,31.4L281.2,30.5L281.8,30.1L282.4,30.0L283.0,29.6L283.6,28.8L284.2,28.4L284.8,28.3L285.4,28.3L286.0,27.8L286.6,26.9L287.2,25.9L287.8,25.2L288.4,24.5L289.0,24.0L289.6,23.6L290.2,23.2L290.8,22.8L291.4,22.4L292.0,22.2L292.6,22.3L293.2,21.9L293.8,20.8L294.4,19.8L295.0,19.3L295.6,19.2L296.2,18.9L296.8,18.4L297.4,17.9L298.0,17.8L298.6,17.7L299.2,17.3L299.8,16.9" fill="none" stroke="#008000" stroke-width="1.6" stroke-linejoin="round" stroke-linecap="butt"/>
<line x1="224.0" y1="93.0" x2="224.0" y2="199.3" stroke="#8a8a8a" stroke-width="1.3"/>
<line x1="339.3" y1="93.0" x2="339.3" y2="199.3" stroke="#9a9a9a" stroke-width="1.2"/>
<line x1="224.0" y1="199.3" x2="339.3" y2="199.3" stroke="#7a7a7a" stroke-width="1.2"/>
<line x1="224.0" y1="93.0" x2="339.3" y2="93.0" stroke="#333" stroke-width="1.6"/>
<line x1="222.0" y1="104.1" x2="224.0" y2="104.1" stroke="#555" stroke-width="0.8"/>
<text x="220.5" y="105.9" class="s" font-size="5.2" text-anchor="end" fill="#333">0.0010</text>
<line x1="222.0" y1="125.2" x2="224.0" y2="125.2" stroke="#555" stroke-width="0.8"/>
<text x="220.5" y="127.0" class="s" font-size="5.2" text-anchor="end" fill="#333">0.0005</text>
<line x1="222.0" y1="146.3" x2="224.0" y2="146.3" stroke="#555" stroke-width="0.8"/>
<text x="220.5" y="148.1" class="s" font-size="5.2" text-anchor="end" fill="#333">0.0000</text>
<line x1="222.0" y1="167.4" x2="224.0" y2="167.4" stroke="#555" stroke-width="0.8"/>
<text x="220.5" y="169.2" class="s" font-size="5.2" text-anchor="end" fill="#333">-0.0005</text>
<line x1="222.0" y1="188.5" x2="224.0" y2="188.5" stroke="#555" stroke-width="0.8"/>
<text x="220.5" y="190.3" class="s" font-size="5.2" text-anchor="end" fill="#333">-0.0010</text>
<line x1="236.0" y1="199.3" x2="236.0" y2="201.3" stroke="#555" stroke-width="0.8"/>
<text x="236.0" y="206.9" class="s" font-size="5" text-anchor="middle" fill="#333">-2</text>
<line x1="258.8" y1="199.3" x2="258.8" y2="201.3" stroke="#555" stroke-width="0.8"/>
<text x="258.8" y="206.9" class="s" font-size="5" text-anchor="middle" fill="#333">-1</text>
<line x1="281.6" y1="199.3" x2="281.6" y2="201.3" stroke="#555" stroke-width="0.8"/>
<text x="281.6" y="206.9" class="s" font-size="5" text-anchor="middle" fill="#333">0</text>
<line x1="304.4" y1="199.3" x2="304.4" y2="201.3" stroke="#555" stroke-width="0.8"/>
<text x="304.4" y="206.9" class="s" font-size="5" text-anchor="middle" fill="#333">1</text>
<line x1="327.2" y1="199.3" x2="327.2" y2="201.3" stroke="#555" stroke-width="0.8"/>
<text x="327.2" y="206.9" class="s" font-size="5" text-anchor="middle" fill="#333">2</text>
<text x="282.2" y="216.3" class="t" font-size="6.3" text-anchor="middle" fill="#222">Magnetic filed (Oe)</text>
<text transform="translate(199.9,144.8) rotate(-90)" class="t" font-size="5.6" text-anchor="middle" fill="#222">Magnetization (emu/g)</text>
<text x="295.2" y="130.4" class="t" font-size="6.4" text-anchor="middle" fill="#222">Undoped ZnO</text>
<path d="M236.1,106.4L236.7,106.8L237.3,107.9L237.9,108.8L238.5,109.4L239.1,110.2L239.7,110.7L240.3,110.8L240.9,111.0L241.5,112.0L242.1,113.3L242.7,113.9L243.3,114.3L243.9,114.8L244.5,115.2L245.1,115.4L245.7,116.1L246.3,117.4L246.9,118.3L247.5,118.4L248.1,118.6L248.7,119.2L249.3,119.7L249.9,120.3L250.5,121.3L251.1,122.4L251.7,122.8L252.3,122.7L252.9,123.1L253.5,123.9L254.1,124.6L254.7,125.3L255.3,126.1L255.9,126.7L256.5,126.6L257.1,126.7L257.7,127.7L258.3,128.9L258.9,129.6L259.5,130.3L260.1,131.0L260.7,131.3L261.3,131.3L261.9,132.0L262.5,133.3L263.1,134.2L263.7,134.5L264.3,134.9L264.9,135.4L265.5,135.7L266.1,136.2L266.7,137.4L267.3,138.5L267.9,138.9L268.5,138.9L269.1,139.4L269.7,140.1L270.3,140.7L270.9,141.4L271.5,142.5L272.1,143.1L272.7,142.9L273.3,143.0L273.9,143.8L274.5,144.7L275.1,145.3L275.7,146.1L276.3,147.0L276.9,147.3L277.5,147.4L278.1,147.8L278.7,148.7L279.3,149.2L279.9,148.7L280.5,148.2L281.1,147.6L281.7,146.9L282.3,147.5L282.9,148.8L283.5,149.9L284.1,150.2L284.7,150.2L285.3,150.6L285.9,151.1L286.5,151.5L287.1,152.3L287.7,153.5L288.3,154.1L288.9,154.1L289.5,154.3L290.1,155.1L290.7,155.9L291.3,156.6L291.9,157.6L292.5,158.5L293.1,158.7L293.7,158.6L294.3,159.2L294.9,160.2L295.5,161.0L296.1,161.5L296.7,162.2L297.3,162.6L297.9,162.5L298.5,162.8L299.1,163.9L299.7,165.0L300.3,165.4L300.9,165.7L301.5,166.1L302.1,166.4L302.7,166.6L303.3,167.5L303.9,168.8L304.5,169.5L305.1,169.5L305.7,169.7L306.3,170.3L306.9,170.9L307.5,171.5L308.1,172.6L308.7,173.6L309.3,173.7L309.9,173.6L310.5,174.3L311.1,175.2L311.7,175.9L312.3,176.7L312.9,177.5L313.5,178.0L314.1,177.9L314.7,178.2L315.3,179.3L315.9,180.3L316.5,180.9L317.1,181.4L317.7,181.9L318.3,182.0L318.9,182.1L319.5,182.9L320.1,184.2L320.7,184.8L321.3,184.9L321.9,185.2L322.5,185.8L323.1,186.3L323.7,187.1L324.3,188.4L324.9,189.6L325.5,189.9L326.1,190.1L326.7,190.8L327.3,191.7L327.9,192.5" fill="none" stroke="#000" stroke-width="1.15" stroke-linejoin="round"/>
<path d="M236.1,107.6L236.7,108.3L237.3,109.2L237.9,109.9L238.5,109.9L239.1,110.0L239.7,110.8L240.3,112.0L240.9,112.8L241.5,113.3L242.1,113.9L242.7,114.3L243.3,114.4L243.9,115.0L244.5,116.2L245.1,117.3L245.7,117.6L246.3,117.8L246.9,118.3L247.5,118.8L248.1,119.2L248.7,120.2L249.3,121.4L249.9,121.9L250.5,121.9L251.1,122.2L251.7,123.0L252.3,123.6L252.9,124.4L253.5,125.3L254.1,126.0L254.7,126.0L255.3,125.9L255.9,126.6L256.5,127.6L257.1,128.3L257.7,129.0L258.3,129.9L258.9,130.3L259.5,130.3L260.1,130.9L260.7,132.2L261.3,133.2L261.9,133.6L262.5,134.0L263.1,134.5L263.7,134.8L264.3,135.1L264.9,136.2L265.5,137.5L266.1,138.0L266.7,138.1L267.3,138.5L267.9,139.1L268.5,139.6L269.1,140.3L269.7,141.5L270.3,142.3L270.9,142.3L271.5,142.3L272.1,143.0L272.7,143.8L273.3,144.4L273.9,145.2L274.5,146.0L275.1,146.2L275.7,146.2L276.3,146.8L276.9,148.0L277.5,149.1L278.1,149.4L278.7,149.6L279.3,149.8L279.9,148.9L280.5,148.1L281.1,148.2L281.7,148.6L282.3,149.3L282.9,149.7L283.5,150.1L284.1,150.4L284.7,150.6L285.3,151.3L285.9,152.5L286.5,153.3L287.1,153.4L287.7,153.5L288.3,154.0L288.9,154.7L289.5,155.4L290.1,156.4L290.7,157.5L291.3,157.8L291.9,157.7L292.5,158.2L293.1,159.3L293.7,160.1L294.3,160.7L294.9,161.4L295.5,161.9L296.1,161.8L296.7,162.0L297.3,162.9L297.9,164.0L298.5,164.6L299.1,164.9L299.7,165.5L300.3,165.7L300.9,165.8L301.5,166.5L302.1,167.8L302.7,168.6L303.3,168.7L303.9,169.0L304.5,169.5L305.1,169.9L305.7,170.4L306.3,171.5L306.9,172.6L307.5,172.9L308.1,172.8L308.7,173.3L309.3,174.1L309.9,174.8L310.5,175.6L311.1,176.6L311.7,177.2L312.3,177.1L312.9,177.2L313.5,178.2L314.1,179.2L314.7,179.9L315.3,180.5L315.9,181.2L316.5,181.4L317.1,181.3L317.7,182.0L318.3,183.2L318.9,184.0L319.5,184.3L320.1,184.6L320.7,185.0L321.3,185.2L321.9,185.6L322.5,186.9L323.1,188.1L323.7,188.6L324.3,188.8L324.9,189.4L325.5,190.2L326.1,190.9L326.7,191.9L327.3,193.2L327.9,194.0" fill="none" stroke="#000" stroke-width="1.15" stroke-linejoin="round"/>
<ellipse cx="245.6" cy="117.4" rx="1.6" ry="1.0" transform="rotate(45 245.6 117.4)" fill="#000"/>
<ellipse cx="249.7" cy="120.9" rx="1.6" ry="1.0" transform="rotate(45 249.7 120.9)" fill="#000"/>
<ellipse cx="289.0" cy="155.2" rx="1.4" ry="0.9" transform="rotate(45 289.0 155.2)" fill="#000"/>
<ellipse cx="297.5" cy="163.0" rx="1.3" ry="0.9" transform="rotate(40 297.5 163.0)" fill="#000"/>
<ellipse cx="311.0" cy="175.4" rx="1.5" ry="1.0" transform="rotate(45 311.0 175.4)" fill="#000"/>
<circle cx="236.1" cy="107.2" r="1.35" fill="#fff" stroke="#000" stroke-width="0.8"/>
<circle cx="257.6" cy="128.8" r="1.35" fill="#fff" stroke="#000" stroke-width="0.8"/>
<circle cx="264.3" cy="135.1" r="1.35" fill="#fff" stroke="#000" stroke-width="0.8"/>
<circle cx="270.0" cy="141.2" r="1.35" fill="#fff" stroke="#000" stroke-width="0.8"/>
<circle cx="316.9" cy="181.5" r="1.35" fill="#fff" stroke="#000" stroke-width="0.8"/>
<rect x="60.3" y="1.6" width="293.09999999999997" height="218.70000000000002" fill="none" stroke="#3a3a3a" stroke-width="1.4"/>
<line x1="56.0" y1="20.2" x2="60.3" y2="20.2" stroke="#3a3a3a" stroke-width="1.3"/>
<text x="53.2" y="23.9" class="s" font-size="12.3" text-anchor="end" fill="#000">0.002</text>
<line x1="56.0" y1="56.5" x2="60.3" y2="56.5" stroke="#3a3a3a" stroke-width="1.3"/>
<text x="53.2" y="60.2" class="s" font-size="12.3" text-anchor="end" fill="#000">0.001</text>
<text x="53.2" y="96.5" class="s" font-size="12.3" text-anchor="end" fill="#000">0.000</text>
<line x1="56.0" y1="129.1" x2="60.3" y2="129.1" stroke="#3a3a3a" stroke-width="1.3"/>
<text x="53.2" y="132.8" class="s" font-size="12.3" text-anchor="end" fill="#000">-0.001</text>
<line x1="56.0" y1="165.4" x2="60.3" y2="165.4" stroke="#3a3a3a" stroke-width="1.3"/>
<text x="53.2" y="169.1" class="s" font-size="12.3" text-anchor="end" fill="#000">-0.002</text>
<line x1="56.0" y1="201.7" x2="60.3" y2="201.7" stroke="#3a3a3a" stroke-width="1.3"/>
<text x="53.2" y="205.4" class="s" font-size="12.3" text-anchor="end" fill="#000">-0.003</text>
<line x1="86.9" y1="220.3" x2="86.9" y2="225.10000000000002" stroke="#3a3a3a" stroke-width="1.3"/>
<text x="86.9" y="237.3" class="s" font-size="12" text-anchor="middle" fill="#000">-2</text>
<line x1="140.2" y1="220.3" x2="140.2" y2="225.10000000000002" stroke="#3a3a3a" stroke-width="1.3"/>
<text x="140.2" y="237.3" class="s" font-size="12" text-anchor="middle" fill="#000">-1</text>
<line x1="193.5" y1="220.3" x2="193.5" y2="225.10000000000002" stroke="#3a3a3a" stroke-width="1.3"/>
<text x="193.5" y="237.3" class="s" font-size="12" text-anchor="middle" fill="#000">0</text>
<line x1="246.8" y1="220.3" x2="246.8" y2="225.10000000000002" stroke="#3a3a3a" stroke-width="1.3"/>
<text x="246.8" y="237.3" class="s" font-size="12" text-anchor="middle" fill="#000">1</text>
<line x1="300.1" y1="220.3" x2="300.1" y2="225.10000000000002" stroke="#3a3a3a" stroke-width="1.3"/>
<text x="300.1" y="237.3" class="s" font-size="12" text-anchor="middle" fill="#000">2</text>
<line x1="353.4" y1="220.3" x2="353.4" y2="225.10000000000002" stroke="#3a3a3a" stroke-width="1.3"/>
<text x="353.4" y="237.3" class="s" font-size="12" text-anchor="middle" fill="#000">3</text>
<text x="205.9" y="255.2" class="t" font-size="12.1" text-anchor="middle" fill="#000">Magnetic filed (Oe)</text>
<text transform="translate(11.3,107.5) rotate(-90)" class="t" font-size="12.25" text-anchor="middle" fill="#000">Magnetization (emu/g)</text>
<line x1="81.9" y1="35.3" x2="107.7" y2="35.3" stroke="#ff0000" stroke-width="1.5"/>
<text x="110.5" y="38.9" class="t" font-size="11" fill="#ff0000">ZnO-Co (1%)</text>
<line x1="81.9" y1="49.3" x2="107.7" y2="49.3" stroke="#0000ff" stroke-width="1.5"/>
<text x="110.5" y="52.9" class="t" font-size="11" fill="#0000ff">ZnO-Co (3%)</text>
<line x1="81.9" y1="63.3" x2="107.7" y2="63.3" stroke="#ff00ff" stroke-width="1.5"/>
<text x="110.5" y="66.9" class="t" font-size="11" fill="#ff00ff">ZnO-Co (5%)</text>
<line x1="81.9" y1="76.9" x2="107.7" y2="76.9" stroke="#008000" stroke-width="1.5"/>
<text x="110.5" y="80.5" class="t" font-size="11" fill="#008000">ZnO-Co (7%)</text>
</svg></body></html>
